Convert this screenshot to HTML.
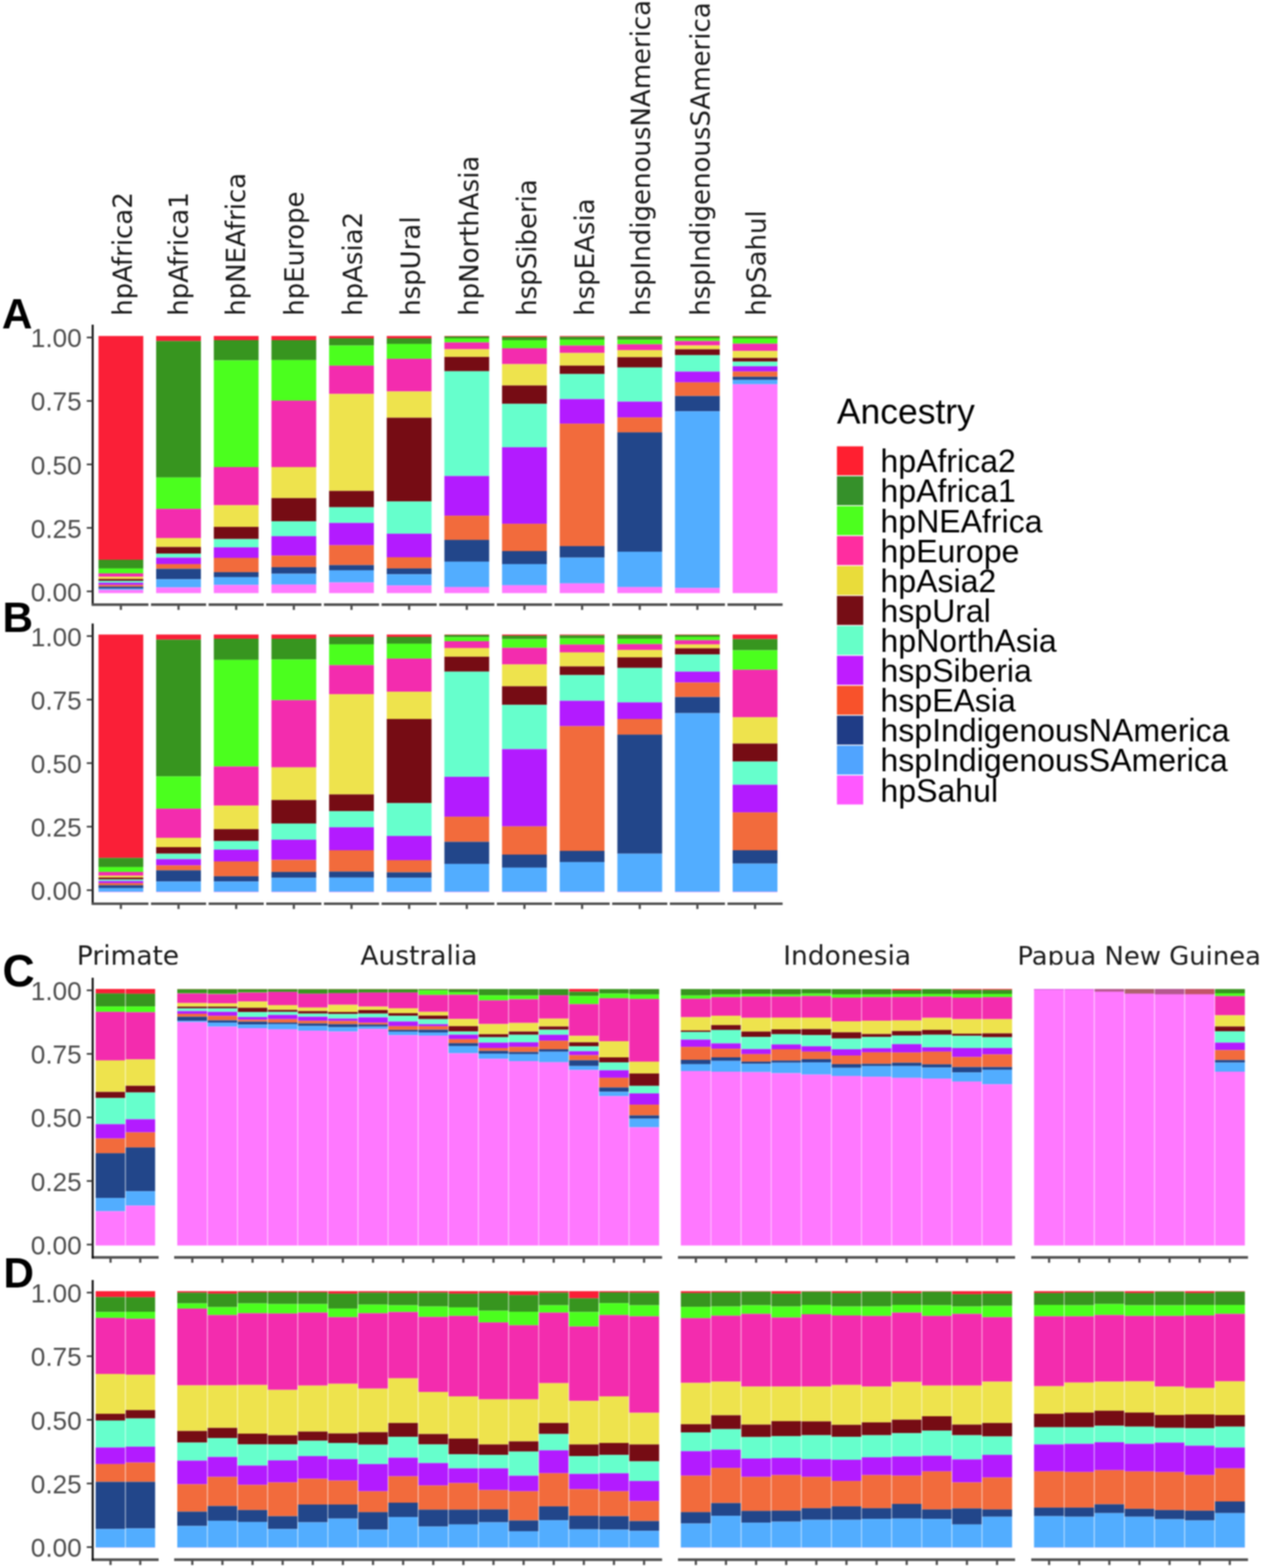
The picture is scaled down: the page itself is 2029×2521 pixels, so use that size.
<!DOCTYPE html>
<html><head><meta charset="utf-8"><title>Ancestry</title><style>
html,body{margin:0;padding:0;background:#fff;}
body{width:2029px;height:2521px;overflow:hidden;}
svg{display:block;filter:blur(1px);}
.yt{font-family:"Liberation Sans",Arial,sans-serif;font-size:42px;fill:#4D4D4D;text-anchor:end;}
.strip{font-family:"DejaVu Sans",sans-serif;font-size:41.8px;fill:#1A1A1A;}
.col{font-size:41.8px;}
.tag{font-family:"Liberation Sans",Arial,sans-serif;font-size:68px;font-weight:bold;fill:#000;}
.ltitle{font-family:"Liberation Sans",Arial,sans-serif;font-size:57px;fill:#000;}
.ltxt{font-family:"Liberation Sans",Arial,sans-serif;font-size:51.5px;fill:#000;}
</style></head><body>
<svg width="2029" height="2521" viewBox="0 0 2029 2521">
<rect width="2029" height="2521" fill="#fff"/>
<defs><clipPath id="stripclip"><rect x="0" y="1400" width="2029" height="151.5"/></clipPath></defs>
<rect x="158.35" y="540.2" width="72" height="359.76" fill="#FA1F37"/>
<rect x="158.35" y="899.96" width="72" height="13.96" fill="#37951F"/>
<rect x="158.35" y="913.93" width="72" height="7.98" fill="#4BFF1E"/>
<rect x="158.35" y="921.9" width="72" height="5.38" fill="#F32CAE"/>
<rect x="158.35" y="927.29" width="72" height="3.59" fill="#EEE34D"/>
<rect x="158.35" y="930.88" width="72" height="2.99" fill="#760C14"/>
<rect x="158.35" y="933.87" width="72" height="2.99" fill="#66FFCC"/>
<rect x="158.35" y="936.86" width="72" height="3.59" fill="#B31BFF"/>
<rect x="158.35" y="940.45" width="72" height="2.79" fill="#F26B3C"/>
<rect x="158.35" y="943.24" width="72" height="3.19" fill="#22468A"/>
<rect x="158.35" y="946.43" width="72" height="1.99" fill="#52ADFF"/>
<rect x="158.35" y="948.43" width="72" height="5.17" fill="#FF78FF"/>
<rect x="251.04" y="540.2" width="72" height="8.15" fill="#FA1F37"/>
<rect x="251.04" y="548.35" width="72" height="219.39" fill="#37951F"/>
<rect x="251.04" y="767.73" width="72" height="50.46" fill="#4BFF1E"/>
<rect x="251.04" y="818.19" width="72" height="46.87" fill="#F32CAE"/>
<rect x="251.04" y="865.06" width="72" height="14.36" fill="#EEE34D"/>
<rect x="251.04" y="879.42" width="72" height="10.57" fill="#760C14"/>
<rect x="251.04" y="889.99" width="72" height="6.58" fill="#66FFCC"/>
<rect x="251.04" y="896.57" width="72" height="10.37" fill="#B31BFF"/>
<rect x="251.04" y="906.94" width="72" height="7.58" fill="#F26B3C"/>
<rect x="251.04" y="914.52" width="72" height="16.75" fill="#22468A"/>
<rect x="251.04" y="931.28" width="72" height="13.16" fill="#52ADFF"/>
<rect x="251.04" y="944.44" width="72" height="9.16" fill="#FF78FF"/>
<rect x="343.73" y="540.2" width="72" height="6.75" fill="#FA1F37"/>
<rect x="343.73" y="546.95" width="72" height="32.51" fill="#37951F"/>
<rect x="343.73" y="579.46" width="72" height="171.52" fill="#4BFF1E"/>
<rect x="343.73" y="750.98" width="72" height="61.23" fill="#F32CAE"/>
<rect x="343.73" y="812.21" width="72" height="34.9" fill="#EEE34D"/>
<rect x="343.73" y="847.11" width="72" height="19.55" fill="#760C14"/>
<rect x="343.73" y="866.66" width="72" height="13.36" fill="#66FFCC"/>
<rect x="343.73" y="880.02" width="72" height="16.95" fill="#B31BFF"/>
<rect x="343.73" y="896.97" width="72" height="22.94" fill="#F26B3C"/>
<rect x="343.73" y="919.91" width="72" height="7.98" fill="#22468A"/>
<rect x="343.73" y="927.89" width="72" height="12.56" fill="#52ADFF"/>
<rect x="343.73" y="940.45" width="72" height="13.15" fill="#FF78FF"/>
<rect x="436.42" y="540.2" width="72" height="6.75" fill="#FA1F37"/>
<rect x="436.42" y="546.95" width="72" height="31.91" fill="#37951F"/>
<rect x="436.42" y="578.86" width="72" height="65.22" fill="#4BFF1E"/>
<rect x="436.42" y="644.08" width="72" height="106.9" fill="#F32CAE"/>
<rect x="436.42" y="750.98" width="72" height="49.86" fill="#EEE34D"/>
<rect x="436.42" y="800.84" width="72" height="37.3" fill="#760C14"/>
<rect x="436.42" y="838.14" width="72" height="23.93" fill="#66FFCC"/>
<rect x="436.42" y="862.07" width="72" height="31.31" fill="#B31BFF"/>
<rect x="436.42" y="893.38" width="72" height="18.55" fill="#F26B3C"/>
<rect x="436.42" y="911.93" width="72" height="10.57" fill="#22468A"/>
<rect x="436.42" y="922.5" width="72" height="17.35" fill="#52ADFF"/>
<rect x="436.42" y="939.85" width="72" height="13.75" fill="#FF78FF"/>
<rect x="529.11" y="540.2" width="72" height="3.76" fill="#FA1F37"/>
<rect x="529.11" y="543.96" width="72" height="11.57" fill="#37951F"/>
<rect x="529.11" y="555.53" width="72" height="32.31" fill="#4BFF1E"/>
<rect x="529.11" y="587.84" width="72" height="45.47" fill="#F32CAE"/>
<rect x="529.11" y="633.31" width="72" height="155.96" fill="#EEE34D"/>
<rect x="529.11" y="789.27" width="72" height="26.33" fill="#760C14"/>
<rect x="529.11" y="815.6" width="72" height="25.13" fill="#66FFCC"/>
<rect x="529.11" y="840.73" width="72" height="35.9" fill="#B31BFF"/>
<rect x="529.11" y="876.63" width="72" height="31.91" fill="#F26B3C"/>
<rect x="529.11" y="908.54" width="72" height="8.38" fill="#22468A"/>
<rect x="529.11" y="916.92" width="72" height="19.55" fill="#52ADFF"/>
<rect x="529.11" y="936.46" width="72" height="17.14" fill="#FF78FF"/>
<rect x="621.8" y="540.2" width="72" height="3.76" fill="#FA1F37"/>
<rect x="621.8" y="543.96" width="72" height="8.97" fill="#37951F"/>
<rect x="621.8" y="552.94" width="72" height="23.93" fill="#4BFF1E"/>
<rect x="621.8" y="576.87" width="72" height="52.45" fill="#F32CAE"/>
<rect x="621.8" y="629.32" width="72" height="42.28" fill="#EEE34D"/>
<rect x="621.8" y="671.6" width="72" height="134.62" fill="#760C14"/>
<rect x="621.8" y="806.23" width="72" height="51.85" fill="#66FFCC"/>
<rect x="621.8" y="858.08" width="72" height="37.89" fill="#B31BFF"/>
<rect x="621.8" y="895.98" width="72" height="17.95" fill="#F26B3C"/>
<rect x="621.8" y="913.93" width="72" height="9.37" fill="#22468A"/>
<rect x="621.8" y="923.3" width="72" height="17.95" fill="#52ADFF"/>
<rect x="621.8" y="941.25" width="72" height="12.35" fill="#FF78FF"/>
<rect x="714.49" y="540.2" width="72" height="0.77" fill="#FA1F37"/>
<rect x="714.49" y="540.97" width="72" height="2.99" fill="#37951F"/>
<rect x="714.49" y="543.96" width="72" height="6.58" fill="#4BFF1E"/>
<rect x="714.49" y="550.54" width="72" height="10.97" fill="#F32CAE"/>
<rect x="714.49" y="561.51" width="72" height="12.37" fill="#EEE34D"/>
<rect x="714.49" y="573.88" width="72" height="22.94" fill="#760C14"/>
<rect x="714.49" y="596.81" width="72" height="168.53" fill="#66FFCC"/>
<rect x="714.49" y="765.34" width="72" height="63.82" fill="#B31BFF"/>
<rect x="714.49" y="829.16" width="72" height="38.89" fill="#F26B3C"/>
<rect x="714.49" y="868.05" width="72" height="34.9" fill="#22468A"/>
<rect x="714.49" y="902.96" width="72" height="40.89" fill="#52ADFF"/>
<rect x="714.49" y="943.84" width="72" height="9.76" fill="#FF78FF"/>
<rect x="807.18" y="540.2" width="72" height="1.77" fill="#FA1F37"/>
<rect x="807.18" y="541.97" width="72" height="4.99" fill="#37951F"/>
<rect x="807.18" y="546.95" width="72" height="12.96" fill="#4BFF1E"/>
<rect x="807.18" y="559.92" width="72" height="25.53" fill="#F32CAE"/>
<rect x="807.18" y="585.44" width="72" height="34.3" fill="#EEE34D"/>
<rect x="807.18" y="619.75" width="72" height="29.52" fill="#760C14"/>
<rect x="807.18" y="649.27" width="72" height="69.8" fill="#66FFCC"/>
<rect x="807.18" y="719.07" width="72" height="123.06" fill="#B31BFF"/>
<rect x="807.18" y="842.13" width="72" height="43.88" fill="#F26B3C"/>
<rect x="807.18" y="886" width="72" height="20.94" fill="#22468A"/>
<rect x="807.18" y="906.94" width="72" height="33.91" fill="#52ADFF"/>
<rect x="807.18" y="940.85" width="72" height="12.75" fill="#FF78FF"/>
<rect x="899.87" y="540.2" width="72" height="1.37" fill="#FA1F37"/>
<rect x="899.87" y="541.57" width="72" height="4.39" fill="#37951F"/>
<rect x="899.87" y="545.96" width="72" height="9.57" fill="#4BFF1E"/>
<rect x="899.87" y="555.53" width="72" height="11.97" fill="#F32CAE"/>
<rect x="899.87" y="567.5" width="72" height="20.34" fill="#EEE34D"/>
<rect x="899.87" y="587.84" width="72" height="13.56" fill="#760C14"/>
<rect x="899.87" y="601.4" width="72" height="40.29" fill="#66FFCC"/>
<rect x="899.87" y="641.69" width="72" height="39.49" fill="#B31BFF"/>
<rect x="899.87" y="681.18" width="72" height="196.85" fill="#F26B3C"/>
<rect x="899.87" y="878.03" width="72" height="18.55" fill="#22468A"/>
<rect x="899.87" y="896.57" width="72" height="41.28" fill="#52ADFF"/>
<rect x="899.87" y="937.86" width="72" height="15.74" fill="#FF78FF"/>
<rect x="992.56" y="540.2" width="72" height="0.77" fill="#FA1F37"/>
<rect x="992.56" y="540.97" width="72" height="5.38" fill="#37951F"/>
<rect x="992.56" y="546.35" width="72" height="7.18" fill="#4BFF1E"/>
<rect x="992.56" y="553.53" width="72" height="9.37" fill="#F32CAE"/>
<rect x="992.56" y="562.91" width="72" height="11.37" fill="#EEE34D"/>
<rect x="992.56" y="574.28" width="72" height="16.55" fill="#760C14"/>
<rect x="992.56" y="590.83" width="72" height="54.85" fill="#66FFCC"/>
<rect x="992.56" y="645.68" width="72" height="25.53" fill="#B31BFF"/>
<rect x="992.56" y="671.2" width="72" height="23.93" fill="#F26B3C"/>
<rect x="992.56" y="695.14" width="72" height="191.86" fill="#22468A"/>
<rect x="992.56" y="887" width="72" height="56.84" fill="#52ADFF"/>
<rect x="992.56" y="943.84" width="72" height="9.76" fill="#FF78FF"/>
<rect x="1085.25" y="540.2" width="72" height="0.77" fill="#FA1F37"/>
<rect x="1085.25" y="540.97" width="72" height="2.99" fill="#37951F"/>
<rect x="1085.25" y="543.96" width="72" height="4.39" fill="#4BFF1E"/>
<rect x="1085.25" y="548.35" width="72" height="6.98" fill="#F32CAE"/>
<rect x="1085.25" y="555.33" width="72" height="6.18" fill="#EEE34D"/>
<rect x="1085.25" y="561.51" width="72" height="9.37" fill="#760C14"/>
<rect x="1085.25" y="570.89" width="72" height="26.53" fill="#66FFCC"/>
<rect x="1085.25" y="597.41" width="72" height="17.35" fill="#B31BFF"/>
<rect x="1085.25" y="614.76" width="72" height="21.94" fill="#F26B3C"/>
<rect x="1085.25" y="636.7" width="72" height="24.53" fill="#22468A"/>
<rect x="1085.25" y="661.23" width="72" height="284" fill="#52ADFF"/>
<rect x="1085.25" y="945.24" width="72" height="8.36" fill="#FF78FF"/>
<rect x="1177.94" y="540.2" width="72" height="0.77" fill="#FA1F37"/>
<rect x="1177.94" y="540.97" width="72" height="2.99" fill="#37951F"/>
<rect x="1177.94" y="543.96" width="72" height="8.58" fill="#4BFF1E"/>
<rect x="1177.94" y="552.54" width="72" height="11.77" fill="#F32CAE"/>
<rect x="1177.94" y="564.3" width="72" height="11.17" fill="#EEE34D"/>
<rect x="1177.94" y="575.47" width="72" height="5.98" fill="#760C14"/>
<rect x="1177.94" y="581.46" width="72" height="7.38" fill="#66FFCC"/>
<rect x="1177.94" y="588.84" width="72" height="8.58" fill="#B31BFF"/>
<rect x="1177.94" y="597.41" width="72" height="8.38" fill="#F26B3C"/>
<rect x="1177.94" y="605.79" width="72" height="4.99" fill="#22468A"/>
<rect x="1177.94" y="610.77" width="72" height="6.98" fill="#52ADFF"/>
<rect x="1177.94" y="617.75" width="72" height="335.85" fill="#FF78FF"/>
<line x1="149" y1="521.9" x2="149" y2="973.6" stroke="#000" stroke-width="3"/>
<line x1="139.5" y1="542.6" x2="149" y2="542.6" stroke="#333" stroke-width="2.6"/>
<text x="131.3" y="558.4" class="yt">1.00</text>
<line x1="139.5" y1="644.65" x2="149" y2="644.65" stroke="#333" stroke-width="2.6"/>
<text x="131.3" y="660.45" class="yt">0.75</text>
<line x1="139.5" y1="746.7" x2="149" y2="746.7" stroke="#333" stroke-width="2.6"/>
<text x="131.3" y="762.5" class="yt">0.50</text>
<line x1="139.5" y1="848.75" x2="149" y2="848.75" stroke="#333" stroke-width="2.6"/>
<text x="131.3" y="864.55" class="yt">0.25</text>
<line x1="139.5" y1="950.8" x2="149" y2="950.8" stroke="#333" stroke-width="2.6"/>
<text x="131.3" y="966.6" class="yt">0.00</text>
<line x1="147.5" y1="972.1" x2="238.65" y2="972.1" stroke="#4F4F4F" stroke-width="4.2"/>
<line x1="194.35" y1="972.1" x2="194.35" y2="980.6" stroke="#4F4F4F" stroke-width="3.6"/>
<line x1="242.74" y1="972.1" x2="331.34" y2="972.1" stroke="#4F4F4F" stroke-width="4.2"/>
<line x1="287.04" y1="972.1" x2="287.04" y2="980.6" stroke="#4F4F4F" stroke-width="3.6"/>
<line x1="335.43" y1="972.1" x2="424.03" y2="972.1" stroke="#4F4F4F" stroke-width="4.2"/>
<line x1="379.73" y1="972.1" x2="379.73" y2="980.6" stroke="#4F4F4F" stroke-width="3.6"/>
<line x1="428.12" y1="972.1" x2="516.72" y2="972.1" stroke="#4F4F4F" stroke-width="4.2"/>
<line x1="472.42" y1="972.1" x2="472.42" y2="980.6" stroke="#4F4F4F" stroke-width="3.6"/>
<line x1="520.81" y1="972.1" x2="609.41" y2="972.1" stroke="#4F4F4F" stroke-width="4.2"/>
<line x1="565.11" y1="972.1" x2="565.11" y2="980.6" stroke="#4F4F4F" stroke-width="3.6"/>
<line x1="613.5" y1="972.1" x2="702.1" y2="972.1" stroke="#4F4F4F" stroke-width="4.2"/>
<line x1="657.8" y1="972.1" x2="657.8" y2="980.6" stroke="#4F4F4F" stroke-width="3.6"/>
<line x1="706.19" y1="972.1" x2="794.79" y2="972.1" stroke="#4F4F4F" stroke-width="4.2"/>
<line x1="750.49" y1="972.1" x2="750.49" y2="980.6" stroke="#4F4F4F" stroke-width="3.6"/>
<line x1="798.88" y1="972.1" x2="887.48" y2="972.1" stroke="#4F4F4F" stroke-width="4.2"/>
<line x1="843.18" y1="972.1" x2="843.18" y2="980.6" stroke="#4F4F4F" stroke-width="3.6"/>
<line x1="891.57" y1="972.1" x2="980.17" y2="972.1" stroke="#4F4F4F" stroke-width="4.2"/>
<line x1="935.87" y1="972.1" x2="935.87" y2="980.6" stroke="#4F4F4F" stroke-width="3.6"/>
<line x1="984.26" y1="972.1" x2="1072.86" y2="972.1" stroke="#4F4F4F" stroke-width="4.2"/>
<line x1="1028.56" y1="972.1" x2="1028.56" y2="980.6" stroke="#4F4F4F" stroke-width="3.6"/>
<line x1="1076.95" y1="972.1" x2="1165.55" y2="972.1" stroke="#4F4F4F" stroke-width="4.2"/>
<line x1="1121.25" y1="972.1" x2="1121.25" y2="980.6" stroke="#4F4F4F" stroke-width="3.6"/>
<line x1="1169.64" y1="972.1" x2="1258.24" y2="972.1" stroke="#4F4F4F" stroke-width="4.2"/>
<line x1="1213.94" y1="972.1" x2="1213.94" y2="980.6" stroke="#4F4F4F" stroke-width="3.6"/>
<rect x="158.35" y="1020.2" width="72" height="359.17" fill="#FA1F37"/>
<rect x="158.35" y="1379.37" width="72" height="14.56" fill="#37951F"/>
<rect x="158.35" y="1393.93" width="72" height="7.98" fill="#4BFF1E"/>
<rect x="158.35" y="1401.9" width="72" height="5.98" fill="#F32CAE"/>
<rect x="158.35" y="1407.89" width="72" height="2.99" fill="#EEE34D"/>
<rect x="158.35" y="1410.88" width="72" height="2.99" fill="#760C14"/>
<rect x="158.35" y="1413.87" width="72" height="2.59" fill="#66FFCC"/>
<rect x="158.35" y="1416.46" width="72" height="3.39" fill="#B31BFF"/>
<rect x="158.35" y="1419.85" width="72" height="3.39" fill="#F26B3C"/>
<rect x="158.35" y="1423.24" width="72" height="4.59" fill="#22468A"/>
<rect x="158.35" y="1427.83" width="72" height="5.98" fill="#52ADFF"/>
<rect x="158.35" y="1433.81" width="72" height="0.59" fill="#FF78FF"/>
<rect x="251.04" y="1020.2" width="72" height="8.15" fill="#FA1F37"/>
<rect x="251.04" y="1028.35" width="72" height="219.98" fill="#37951F"/>
<rect x="251.04" y="1248.33" width="72" height="51.85" fill="#4BFF1E"/>
<rect x="251.04" y="1300.19" width="72" height="46.87" fill="#F32CAE"/>
<rect x="251.04" y="1347.06" width="72" height="14.96" fill="#EEE34D"/>
<rect x="251.04" y="1362.01" width="72" height="10.57" fill="#760C14"/>
<rect x="251.04" y="1372.58" width="72" height="8.78" fill="#66FFCC"/>
<rect x="251.04" y="1381.36" width="72" height="9.97" fill="#B31BFF"/>
<rect x="251.04" y="1391.33" width="72" height="7.98" fill="#F26B3C"/>
<rect x="251.04" y="1399.31" width="72" height="17.95" fill="#22468A"/>
<rect x="251.04" y="1417.26" width="72" height="16.55" fill="#52ADFF"/>
<rect x="251.04" y="1433.81" width="72" height="0.59" fill="#FF78FF"/>
<rect x="343.73" y="1020.2" width="72" height="6.75" fill="#FA1F37"/>
<rect x="343.73" y="1026.95" width="72" height="33.91" fill="#37951F"/>
<rect x="343.73" y="1060.86" width="72" height="171.52" fill="#4BFF1E"/>
<rect x="343.73" y="1232.38" width="72" height="62.82" fill="#F32CAE"/>
<rect x="343.73" y="1295.2" width="72" height="37.89" fill="#EEE34D"/>
<rect x="343.73" y="1333.1" width="72" height="18.95" fill="#760C14"/>
<rect x="343.73" y="1352.04" width="72" height="13.96" fill="#66FFCC"/>
<rect x="343.73" y="1366" width="72" height="18.95" fill="#B31BFF"/>
<rect x="343.73" y="1384.95" width="72" height="23.93" fill="#F26B3C"/>
<rect x="343.73" y="1408.88" width="72" height="8.38" fill="#22468A"/>
<rect x="343.73" y="1417.26" width="72" height="16.55" fill="#52ADFF"/>
<rect x="343.73" y="1433.81" width="72" height="0.59" fill="#FF78FF"/>
<rect x="436.42" y="1020.2" width="72" height="6.75" fill="#FA1F37"/>
<rect x="436.42" y="1026.95" width="72" height="33.31" fill="#37951F"/>
<rect x="436.42" y="1060.26" width="72" height="65.42" fill="#4BFF1E"/>
<rect x="436.42" y="1125.68" width="72" height="108.1" fill="#F32CAE"/>
<rect x="436.42" y="1233.77" width="72" height="52.45" fill="#EEE34D"/>
<rect x="436.42" y="1286.23" width="72" height="37.89" fill="#760C14"/>
<rect x="436.42" y="1324.12" width="72" height="25.93" fill="#66FFCC"/>
<rect x="436.42" y="1350.05" width="72" height="32.51" fill="#B31BFF"/>
<rect x="436.42" y="1382.56" width="72" height="19.35" fill="#F26B3C"/>
<rect x="436.42" y="1401.9" width="72" height="9.37" fill="#22468A"/>
<rect x="436.42" y="1411.28" width="72" height="22.54" fill="#52ADFF"/>
<rect x="436.42" y="1433.81" width="72" height="0.59" fill="#FF78FF"/>
<rect x="529.11" y="1020.2" width="72" height="3.76" fill="#FA1F37"/>
<rect x="529.11" y="1023.96" width="72" height="11.97" fill="#37951F"/>
<rect x="529.11" y="1035.93" width="72" height="33.51" fill="#4BFF1E"/>
<rect x="529.11" y="1069.43" width="72" height="46.67" fill="#F32CAE"/>
<rect x="529.11" y="1116.1" width="72" height="161.15" fill="#EEE34D"/>
<rect x="529.11" y="1277.25" width="72" height="26.92" fill="#760C14"/>
<rect x="529.11" y="1304.18" width="72" height="25.93" fill="#66FFCC"/>
<rect x="529.11" y="1330.1" width="72" height="36.9" fill="#B31BFF"/>
<rect x="529.11" y="1367" width="72" height="34.3" fill="#F26B3C"/>
<rect x="529.11" y="1401.3" width="72" height="9.57" fill="#22468A"/>
<rect x="529.11" y="1410.88" width="72" height="22.94" fill="#52ADFF"/>
<rect x="529.11" y="1433.81" width="72" height="0.59" fill="#FF78FF"/>
<rect x="621.8" y="1020.2" width="72" height="3.76" fill="#FA1F37"/>
<rect x="621.8" y="1023.96" width="72" height="10.97" fill="#37951F"/>
<rect x="621.8" y="1034.93" width="72" height="23.93" fill="#4BFF1E"/>
<rect x="621.8" y="1058.86" width="72" height="53.25" fill="#F32CAE"/>
<rect x="621.8" y="1112.11" width="72" height="43.88" fill="#EEE34D"/>
<rect x="621.8" y="1155.99" width="72" height="135.22" fill="#760C14"/>
<rect x="621.8" y="1291.21" width="72" height="52.85" fill="#66FFCC"/>
<rect x="621.8" y="1344.06" width="72" height="38.89" fill="#B31BFF"/>
<rect x="621.8" y="1382.96" width="72" height="19.55" fill="#F26B3C"/>
<rect x="621.8" y="1402.5" width="72" height="8.78" fill="#22468A"/>
<rect x="621.8" y="1411.28" width="72" height="22.54" fill="#52ADFF"/>
<rect x="621.8" y="1433.81" width="72" height="0.59" fill="#FF78FF"/>
<rect x="714.49" y="1020.2" width="72" height="0.77" fill="#FA1F37"/>
<rect x="714.49" y="1020.97" width="72" height="3.39" fill="#37951F"/>
<rect x="714.49" y="1024.36" width="72" height="6.58" fill="#4BFF1E"/>
<rect x="714.49" y="1030.94" width="72" height="10.97" fill="#F32CAE"/>
<rect x="714.49" y="1041.91" width="72" height="13.96" fill="#EEE34D"/>
<rect x="714.49" y="1055.87" width="72" height="23.93" fill="#760C14"/>
<rect x="714.49" y="1079.8" width="72" height="169.13" fill="#66FFCC"/>
<rect x="714.49" y="1248.93" width="72" height="64.22" fill="#B31BFF"/>
<rect x="714.49" y="1313.15" width="72" height="40.29" fill="#F26B3C"/>
<rect x="714.49" y="1353.44" width="72" height="35.5" fill="#22468A"/>
<rect x="714.49" y="1388.94" width="72" height="44.87" fill="#52ADFF"/>
<rect x="714.49" y="1433.81" width="72" height="0.59" fill="#FF78FF"/>
<rect x="807.18" y="1020.2" width="72" height="1.77" fill="#FA1F37"/>
<rect x="807.18" y="1021.97" width="72" height="5.58" fill="#37951F"/>
<rect x="807.18" y="1027.55" width="72" height="13.96" fill="#4BFF1E"/>
<rect x="807.18" y="1041.51" width="72" height="26.73" fill="#F32CAE"/>
<rect x="807.18" y="1068.24" width="72" height="35.1" fill="#EEE34D"/>
<rect x="807.18" y="1103.34" width="72" height="29.92" fill="#760C14"/>
<rect x="807.18" y="1133.25" width="72" height="71.2" fill="#66FFCC"/>
<rect x="807.18" y="1204.46" width="72" height="124.25" fill="#B31BFF"/>
<rect x="807.18" y="1328.71" width="72" height="45.27" fill="#F26B3C"/>
<rect x="807.18" y="1373.98" width="72" height="20.94" fill="#22468A"/>
<rect x="807.18" y="1394.92" width="72" height="38.89" fill="#52ADFF"/>
<rect x="807.18" y="1433.81" width="72" height="0.59" fill="#FF78FF"/>
<rect x="899.87" y="1020.2" width="72" height="1.37" fill="#FA1F37"/>
<rect x="899.87" y="1021.57" width="72" height="4.79" fill="#37951F"/>
<rect x="899.87" y="1026.35" width="72" height="9.97" fill="#4BFF1E"/>
<rect x="899.87" y="1036.33" width="72" height="12.56" fill="#F32CAE"/>
<rect x="899.87" y="1048.89" width="72" height="22.54" fill="#EEE34D"/>
<rect x="899.87" y="1071.43" width="72" height="13.96" fill="#760C14"/>
<rect x="899.87" y="1085.39" width="72" height="41.28" fill="#66FFCC"/>
<rect x="899.87" y="1126.67" width="72" height="40.89" fill="#B31BFF"/>
<rect x="899.87" y="1167.56" width="72" height="200.44" fill="#F26B3C"/>
<rect x="899.87" y="1368" width="72" height="17.95" fill="#22468A"/>
<rect x="899.87" y="1385.95" width="72" height="47.87" fill="#52ADFF"/>
<rect x="899.87" y="1433.81" width="72" height="0.59" fill="#FF78FF"/>
<rect x="992.56" y="1020.2" width="72" height="0.77" fill="#FA1F37"/>
<rect x="992.56" y="1020.97" width="72" height="5.98" fill="#37951F"/>
<rect x="992.56" y="1026.95" width="72" height="8.58" fill="#4BFF1E"/>
<rect x="992.56" y="1035.53" width="72" height="9.37" fill="#F32CAE"/>
<rect x="992.56" y="1044.9" width="72" height="11.97" fill="#EEE34D"/>
<rect x="992.56" y="1056.87" width="72" height="16.95" fill="#760C14"/>
<rect x="992.56" y="1073.82" width="72" height="55.44" fill="#66FFCC"/>
<rect x="992.56" y="1129.27" width="72" height="26.73" fill="#B31BFF"/>
<rect x="992.56" y="1155.99" width="72" height="25.13" fill="#F26B3C"/>
<rect x="992.56" y="1181.12" width="72" height="191.46" fill="#22468A"/>
<rect x="992.56" y="1372.58" width="72" height="61.23" fill="#52ADFF"/>
<rect x="992.56" y="1433.81" width="72" height="0.59" fill="#FF78FF"/>
<rect x="1085.25" y="1020.2" width="72" height="0.77" fill="#FA1F37"/>
<rect x="1085.25" y="1020.97" width="72" height="2.99" fill="#37951F"/>
<rect x="1085.25" y="1023.96" width="72" height="5.38" fill="#4BFF1E"/>
<rect x="1085.25" y="1029.35" width="72" height="6.58" fill="#F32CAE"/>
<rect x="1085.25" y="1035.93" width="72" height="6.38" fill="#EEE34D"/>
<rect x="1085.25" y="1042.31" width="72" height="9.97" fill="#760C14"/>
<rect x="1085.25" y="1052.28" width="72" height="27.52" fill="#66FFCC"/>
<rect x="1085.25" y="1079.8" width="72" height="17.55" fill="#B31BFF"/>
<rect x="1085.25" y="1097.36" width="72" height="23.33" fill="#F26B3C"/>
<rect x="1085.25" y="1120.69" width="72" height="25.93" fill="#22468A"/>
<rect x="1085.25" y="1146.62" width="72" height="287.2" fill="#52ADFF"/>
<rect x="1085.25" y="1433.81" width="72" height="0.59" fill="#FF78FF"/>
<rect x="1177.94" y="1020.2" width="72" height="7.35" fill="#FA1F37"/>
<rect x="1177.94" y="1027.55" width="72" height="17.95" fill="#37951F"/>
<rect x="1177.94" y="1045.5" width="72" height="31.31" fill="#4BFF1E"/>
<rect x="1177.94" y="1076.81" width="72" height="76.39" fill="#F32CAE"/>
<rect x="1177.94" y="1153.2" width="72" height="42.28" fill="#EEE34D"/>
<rect x="1177.94" y="1195.48" width="72" height="28.92" fill="#760C14"/>
<rect x="1177.94" y="1224.4" width="72" height="37.3" fill="#66FFCC"/>
<rect x="1177.94" y="1261.7" width="72" height="44.48" fill="#B31BFF"/>
<rect x="1177.94" y="1306.17" width="72" height="60.83" fill="#F26B3C"/>
<rect x="1177.94" y="1367" width="72" height="21.54" fill="#22468A"/>
<rect x="1177.94" y="1388.54" width="72" height="45.27" fill="#52ADFF"/>
<rect x="1177.94" y="1433.81" width="72" height="0.59" fill="#FF78FF"/>
<line x1="149" y1="1002.6" x2="149" y2="1454.5" stroke="#000" stroke-width="3"/>
<line x1="139.5" y1="1022.7" x2="149" y2="1022.7" stroke="#333" stroke-width="2.6"/>
<text x="131.3" y="1038.5" class="yt">1.00</text>
<line x1="139.5" y1="1124.83" x2="149" y2="1124.83" stroke="#333" stroke-width="2.6"/>
<text x="131.3" y="1140.62" class="yt">0.75</text>
<line x1="139.5" y1="1226.95" x2="149" y2="1226.95" stroke="#333" stroke-width="2.6"/>
<text x="131.3" y="1242.75" class="yt">0.50</text>
<line x1="139.5" y1="1329.08" x2="149" y2="1329.08" stroke="#333" stroke-width="2.6"/>
<text x="131.3" y="1344.88" class="yt">0.25</text>
<line x1="139.5" y1="1431.2" x2="149" y2="1431.2" stroke="#333" stroke-width="2.6"/>
<text x="131.3" y="1447" class="yt">0.00</text>
<line x1="147.5" y1="1453" x2="238.65" y2="1453" stroke="#4F4F4F" stroke-width="4.2"/>
<line x1="194.35" y1="1453" x2="194.35" y2="1461.5" stroke="#4F4F4F" stroke-width="3.6"/>
<line x1="242.74" y1="1453" x2="331.34" y2="1453" stroke="#4F4F4F" stroke-width="4.2"/>
<line x1="287.04" y1="1453" x2="287.04" y2="1461.5" stroke="#4F4F4F" stroke-width="3.6"/>
<line x1="335.43" y1="1453" x2="424.03" y2="1453" stroke="#4F4F4F" stroke-width="4.2"/>
<line x1="379.73" y1="1453" x2="379.73" y2="1461.5" stroke="#4F4F4F" stroke-width="3.6"/>
<line x1="428.12" y1="1453" x2="516.72" y2="1453" stroke="#4F4F4F" stroke-width="4.2"/>
<line x1="472.42" y1="1453" x2="472.42" y2="1461.5" stroke="#4F4F4F" stroke-width="3.6"/>
<line x1="520.81" y1="1453" x2="609.41" y2="1453" stroke="#4F4F4F" stroke-width="4.2"/>
<line x1="565.11" y1="1453" x2="565.11" y2="1461.5" stroke="#4F4F4F" stroke-width="3.6"/>
<line x1="613.5" y1="1453" x2="702.1" y2="1453" stroke="#4F4F4F" stroke-width="4.2"/>
<line x1="657.8" y1="1453" x2="657.8" y2="1461.5" stroke="#4F4F4F" stroke-width="3.6"/>
<line x1="706.19" y1="1453" x2="794.79" y2="1453" stroke="#4F4F4F" stroke-width="4.2"/>
<line x1="750.49" y1="1453" x2="750.49" y2="1461.5" stroke="#4F4F4F" stroke-width="3.6"/>
<line x1="798.88" y1="1453" x2="887.48" y2="1453" stroke="#4F4F4F" stroke-width="4.2"/>
<line x1="843.18" y1="1453" x2="843.18" y2="1461.5" stroke="#4F4F4F" stroke-width="3.6"/>
<line x1="891.57" y1="1453" x2="980.17" y2="1453" stroke="#4F4F4F" stroke-width="4.2"/>
<line x1="935.87" y1="1453" x2="935.87" y2="1461.5" stroke="#4F4F4F" stroke-width="3.6"/>
<line x1="984.26" y1="1453" x2="1072.86" y2="1453" stroke="#4F4F4F" stroke-width="4.2"/>
<line x1="1028.56" y1="1453" x2="1028.56" y2="1461.5" stroke="#4F4F4F" stroke-width="3.6"/>
<line x1="1076.95" y1="1453" x2="1165.55" y2="1453" stroke="#4F4F4F" stroke-width="4.2"/>
<line x1="1121.25" y1="1453" x2="1121.25" y2="1461.5" stroke="#4F4F4F" stroke-width="3.6"/>
<line x1="1169.64" y1="1453" x2="1258.24" y2="1453" stroke="#4F4F4F" stroke-width="4.2"/>
<line x1="1213.94" y1="1453" x2="1213.94" y2="1461.5" stroke="#4F4F4F" stroke-width="3.6"/>
<text class="strip col" transform="translate(212.3,507.8) rotate(-90)" x="0" y="0">hpAfrica2</text>
<text class="strip col" transform="translate(301.7,507.8) rotate(-90)" x="0" y="0">hpAfrica1</text>
<text class="strip col" transform="translate(394,507.8) rotate(-90)" x="0" y="0">hpNEAfrica</text>
<text class="strip col" transform="translate(488.1,507.8) rotate(-90)" x="0" y="0">hpEurope</text>
<text class="strip col" transform="translate(581.6,507.8) rotate(-90)" x="0" y="0">hpAsia2</text>
<text class="strip col" transform="translate(675.1,507.8) rotate(-90)" x="0" y="0">hspUral</text>
<text class="strip col" transform="translate(769.1,507.8) rotate(-90)" x="0" y="0">hpNorthAsia</text>
<text class="strip col" transform="translate(861.7,507.8) rotate(-90)" x="0" y="0">hspSiberia</text>
<text class="strip col" transform="translate(954.6,507.8) rotate(-90)" x="0" y="0">hspEAsia</text>
<text class="strip col" transform="translate(1044.9,507.8) rotate(-90)" x="0" y="0">hspIndigenousNAmerica</text>
<text class="strip col" transform="translate(1141,507.8) rotate(-90)" x="0" y="0">hspIndigenousSAmerica</text>
<text class="strip col" transform="translate(1231,507.8) rotate(-90)" x="0" y="0">hpSahul</text>
<rect x="153.8" y="1590" width="47.8" height="7.22" fill="#FA1F37"/>
<rect x="153.8" y="1597.22" width="47.8" height="20.9" fill="#37951F"/>
<rect x="153.8" y="1618.12" width="47.8" height="8.68" fill="#4BFF1E"/>
<rect x="153.8" y="1626.8" width="47.8" height="78.08" fill="#F32CAE"/>
<rect x="153.8" y="1704.87" width="47.8" height="50.67" fill="#EEE34D"/>
<rect x="153.8" y="1755.54" width="47.8" height="9.86" fill="#760C14"/>
<rect x="153.8" y="1765.4" width="47.8" height="42" fill="#66FFCC"/>
<rect x="153.8" y="1807.4" width="47.8" height="23.07" fill="#B31BFF"/>
<rect x="153.8" y="1830.47" width="47.8" height="23.66" fill="#F26B3C"/>
<rect x="153.8" y="1854.12" width="47.8" height="71.96" fill="#22468A"/>
<rect x="153.8" y="1926.09" width="47.8" height="21.29" fill="#52ADFF"/>
<rect x="153.8" y="1947.38" width="47.8" height="55.12" fill="#FF78FF"/>
<rect x="201.6" y="1590" width="47.8" height="7.82" fill="#FA1F37"/>
<rect x="201.6" y="1597.82" width="47.8" height="20.31" fill="#37951F"/>
<rect x="201.6" y="1618.12" width="47.8" height="9.27" fill="#4BFF1E"/>
<rect x="201.6" y="1627.39" width="47.8" height="75.91" fill="#F32CAE"/>
<rect x="201.6" y="1703.3" width="47.8" height="42.39" fill="#EEE34D"/>
<rect x="201.6" y="1745.69" width="47.8" height="10.84" fill="#760C14"/>
<rect x="201.6" y="1756.53" width="47.8" height="42.98" fill="#66FFCC"/>
<rect x="201.6" y="1799.51" width="47.8" height="21.1" fill="#B31BFF"/>
<rect x="201.6" y="1820.61" width="47.8" height="24.25" fill="#F26B3C"/>
<rect x="201.6" y="1844.86" width="47.8" height="70.39" fill="#22468A"/>
<rect x="201.6" y="1915.24" width="47.8" height="23.07" fill="#52ADFF"/>
<rect x="201.6" y="1938.31" width="47.8" height="64.19" fill="#FF78FF"/>
<line x1="147.5" y1="2021.7" x2="255" y2="2021.7" stroke="#4F4F4F" stroke-width="4.2"/>
<line x1="177.7" y1="2021.7" x2="177.7" y2="2030.2" stroke="#4F4F4F" stroke-width="3.6"/>
<line x1="225.5" y1="2021.7" x2="225.5" y2="2030.2" stroke="#4F4F4F" stroke-width="3.6"/>
<rect x="285" y="1590" width="48.42" height="0.48" fill="#FA1F37"/>
<rect x="285" y="1590.48" width="48.42" height="6.34" fill="#37951F"/>
<rect x="285" y="1596.82" width="48.42" height="0.43" fill="#4BFF1E"/>
<rect x="285" y="1597.25" width="48.42" height="15.42" fill="#F32CAE"/>
<rect x="285" y="1612.67" width="48.42" height="5.76" fill="#EEE34D"/>
<rect x="285" y="1618.43" width="48.42" height="2.88" fill="#760C14"/>
<rect x="285" y="1621.31" width="48.42" height="4.32" fill="#66FFCC"/>
<rect x="285" y="1625.63" width="48.42" height="4.32" fill="#B31BFF"/>
<rect x="285" y="1629.96" width="48.42" height="4.76" fill="#F26B3C"/>
<rect x="285" y="1634.71" width="48.42" height="6.48" fill="#22468A"/>
<rect x="285" y="1641.2" width="48.42" height="2.16" fill="#52ADFF"/>
<rect x="285" y="1643.36" width="48.42" height="359.14" fill="#FF78FF"/>
<rect x="333.42" y="1590" width="48.42" height="0.48" fill="#FA1F37"/>
<rect x="333.42" y="1590.48" width="48.42" height="7.2" fill="#37951F"/>
<rect x="333.42" y="1597.68" width="48.42" height="0.58" fill="#4BFF1E"/>
<rect x="333.42" y="1598.26" width="48.42" height="14.84" fill="#F32CAE"/>
<rect x="333.42" y="1613.1" width="48.42" height="5.33" fill="#EEE34D"/>
<rect x="333.42" y="1618.43" width="48.42" height="2.88" fill="#760C14"/>
<rect x="333.42" y="1621.31" width="48.42" height="5.48" fill="#66FFCC"/>
<rect x="333.42" y="1626.79" width="48.42" height="6.48" fill="#B31BFF"/>
<rect x="333.42" y="1633.27" width="48.42" height="7.2" fill="#F26B3C"/>
<rect x="333.42" y="1640.48" width="48.42" height="3.6" fill="#22468A"/>
<rect x="333.42" y="1644.08" width="48.42" height="6.48" fill="#52ADFF"/>
<rect x="333.42" y="1650.56" width="48.42" height="351.94" fill="#FF78FF"/>
<rect x="381.84" y="1590" width="48.42" height="0.48" fill="#FA1F37"/>
<rect x="381.84" y="1590.48" width="48.42" height="4.9" fill="#37951F"/>
<rect x="381.84" y="1595.37" width="48.42" height="0.43" fill="#4BFF1E"/>
<rect x="381.84" y="1595.81" width="48.42" height="14.41" fill="#F32CAE"/>
<rect x="381.84" y="1610.22" width="48.42" height="10.09" fill="#EEE34D"/>
<rect x="381.84" y="1620.3" width="48.42" height="6.77" fill="#760C14"/>
<rect x="381.84" y="1627.07" width="48.42" height="8.07" fill="#66FFCC"/>
<rect x="381.84" y="1635.14" width="48.42" height="4.32" fill="#B31BFF"/>
<rect x="381.84" y="1639.47" width="48.42" height="3.17" fill="#F26B3C"/>
<rect x="381.84" y="1642.64" width="48.42" height="4.61" fill="#22468A"/>
<rect x="381.84" y="1647.25" width="48.42" height="5.76" fill="#52ADFF"/>
<rect x="381.84" y="1653.01" width="48.42" height="349.49" fill="#FF78FF"/>
<rect x="430.26" y="1590" width="48.42" height="0.48" fill="#FA1F37"/>
<rect x="430.26" y="1590.48" width="48.42" height="4.32" fill="#37951F"/>
<rect x="430.26" y="1594.8" width="48.42" height="21.18" fill="#F32CAE"/>
<rect x="430.26" y="1615.98" width="48.42" height="7.64" fill="#EEE34D"/>
<rect x="430.26" y="1623.62" width="48.42" height="3.17" fill="#760C14"/>
<rect x="430.26" y="1626.79" width="48.42" height="5.04" fill="#66FFCC"/>
<rect x="430.26" y="1631.83" width="48.42" height="6.77" fill="#B31BFF"/>
<rect x="430.26" y="1638.6" width="48.42" height="5.48" fill="#F26B3C"/>
<rect x="430.26" y="1644.08" width="48.42" height="2.59" fill="#22468A"/>
<rect x="430.26" y="1646.67" width="48.42" height="8.21" fill="#52ADFF"/>
<rect x="430.26" y="1654.88" width="48.42" height="347.62" fill="#FF78FF"/>
<rect x="478.68" y="1590" width="48.42" height="0.48" fill="#FA1F37"/>
<rect x="478.68" y="1590.48" width="48.42" height="7.2" fill="#37951F"/>
<rect x="478.68" y="1597.68" width="48.42" height="22.19" fill="#F32CAE"/>
<rect x="478.68" y="1619.87" width="48.42" height="5.76" fill="#EEE34D"/>
<rect x="478.68" y="1625.63" width="48.42" height="4.03" fill="#760C14"/>
<rect x="478.68" y="1629.67" width="48.42" height="5.04" fill="#66FFCC"/>
<rect x="478.68" y="1634.71" width="48.42" height="6.48" fill="#B31BFF"/>
<rect x="478.68" y="1641.2" width="48.42" height="4.32" fill="#F26B3C"/>
<rect x="478.68" y="1645.52" width="48.42" height="4.03" fill="#22468A"/>
<rect x="478.68" y="1649.55" width="48.42" height="7.49" fill="#52ADFF"/>
<rect x="478.68" y="1657.05" width="48.42" height="345.45" fill="#FF78FF"/>
<rect x="527.1" y="1590" width="48.42" height="0.48" fill="#FA1F37"/>
<rect x="527.1" y="1590.48" width="48.42" height="6.34" fill="#37951F"/>
<rect x="527.1" y="1596.82" width="48.42" height="18.73" fill="#F32CAE"/>
<rect x="527.1" y="1615.55" width="48.42" height="11.53" fill="#EEE34D"/>
<rect x="527.1" y="1627.07" width="48.42" height="3.31" fill="#760C14"/>
<rect x="527.1" y="1630.39" width="48.42" height="7.2" fill="#66FFCC"/>
<rect x="527.1" y="1637.59" width="48.42" height="3.89" fill="#B31BFF"/>
<rect x="527.1" y="1641.48" width="48.42" height="5.19" fill="#F26B3C"/>
<rect x="527.1" y="1646.67" width="48.42" height="4.9" fill="#22468A"/>
<rect x="527.1" y="1651.57" width="48.42" height="6.92" fill="#52ADFF"/>
<rect x="527.1" y="1658.49" width="48.42" height="344.01" fill="#FF78FF"/>
<rect x="575.52" y="1590" width="48.42" height="0.48" fill="#FA1F37"/>
<rect x="575.52" y="1590.48" width="48.42" height="5.33" fill="#37951F"/>
<rect x="575.52" y="1595.81" width="48.42" height="22.62" fill="#F32CAE"/>
<rect x="575.52" y="1618.43" width="48.42" height="5.48" fill="#EEE34D"/>
<rect x="575.52" y="1623.9" width="48.42" height="5.76" fill="#760C14"/>
<rect x="575.52" y="1629.67" width="48.42" height="6.05" fill="#66FFCC"/>
<rect x="575.52" y="1635.72" width="48.42" height="8.65" fill="#B31BFF"/>
<rect x="575.52" y="1644.37" width="48.42" height="2.88" fill="#F26B3C"/>
<rect x="575.52" y="1647.25" width="48.42" height="3.31" fill="#22468A"/>
<rect x="575.52" y="1650.56" width="48.42" height="3.6" fill="#52ADFF"/>
<rect x="575.52" y="1654.16" width="48.42" height="348.34" fill="#FF78FF"/>
<rect x="623.94" y="1590" width="48.42" height="0.48" fill="#FA1F37"/>
<rect x="623.94" y="1590.48" width="48.42" height="5.33" fill="#37951F"/>
<rect x="623.94" y="1595.81" width="48.42" height="25.22" fill="#F32CAE"/>
<rect x="623.94" y="1621.02" width="48.42" height="7.93" fill="#EEE34D"/>
<rect x="623.94" y="1628.95" width="48.42" height="4.32" fill="#760C14"/>
<rect x="623.94" y="1633.27" width="48.42" height="9.08" fill="#66FFCC"/>
<rect x="623.94" y="1642.35" width="48.42" height="7.49" fill="#B31BFF"/>
<rect x="623.94" y="1649.84" width="48.42" height="6.05" fill="#F26B3C"/>
<rect x="623.94" y="1655.89" width="48.42" height="2.88" fill="#22468A"/>
<rect x="623.94" y="1658.78" width="48.42" height="5.48" fill="#52ADFF"/>
<rect x="623.94" y="1664.25" width="48.42" height="338.25" fill="#FF78FF"/>
<rect x="672.36" y="1590" width="48.42" height="0.48" fill="#FA1F37"/>
<rect x="672.36" y="1590.48" width="48.42" height="1.73" fill="#37951F"/>
<rect x="672.36" y="1592.2" width="48.42" height="7.49" fill="#4BFF1E"/>
<rect x="672.36" y="1599.7" width="48.42" height="27.09" fill="#F32CAE"/>
<rect x="672.36" y="1626.79" width="48.42" height="6.05" fill="#EEE34D"/>
<rect x="672.36" y="1632.84" width="48.42" height="5.76" fill="#760C14"/>
<rect x="672.36" y="1638.6" width="48.42" height="8.07" fill="#66FFCC"/>
<rect x="672.36" y="1646.67" width="48.42" height="3.17" fill="#B31BFF"/>
<rect x="672.36" y="1649.84" width="48.42" height="5.76" fill="#F26B3C"/>
<rect x="672.36" y="1655.61" width="48.42" height="4.32" fill="#22468A"/>
<rect x="672.36" y="1659.93" width="48.42" height="5.04" fill="#52ADFF"/>
<rect x="672.36" y="1664.97" width="48.42" height="337.53" fill="#FF78FF"/>
<rect x="720.78" y="1590" width="48.42" height="0.48" fill="#FA1F37"/>
<rect x="720.78" y="1590.48" width="48.42" height="4.61" fill="#37951F"/>
<rect x="720.78" y="1595.09" width="48.42" height="4.32" fill="#4BFF1E"/>
<rect x="720.78" y="1599.41" width="48.42" height="38.9" fill="#F32CAE"/>
<rect x="720.78" y="1638.31" width="48.42" height="11.53" fill="#EEE34D"/>
<rect x="720.78" y="1649.84" width="48.42" height="8.65" fill="#760C14"/>
<rect x="720.78" y="1658.49" width="48.42" height="5.04" fill="#66FFCC"/>
<rect x="720.78" y="1663.53" width="48.42" height="7.2" fill="#B31BFF"/>
<rect x="720.78" y="1670.73" width="48.42" height="6.48" fill="#F26B3C"/>
<rect x="720.78" y="1677.22" width="48.42" height="4.61" fill="#22468A"/>
<rect x="720.78" y="1681.83" width="48.42" height="11.53" fill="#52ADFF"/>
<rect x="720.78" y="1693.36" width="48.42" height="309.14" fill="#FF78FF"/>
<rect x="769.2" y="1590" width="48.42" height="0.19" fill="#FA1F37"/>
<rect x="769.2" y="1590.19" width="48.42" height="10.03" fill="#37951F"/>
<rect x="769.2" y="1600.22" width="48.42" height="8.13" fill="#4BFF1E"/>
<rect x="769.2" y="1608.34" width="48.42" height="38.04" fill="#F32CAE"/>
<rect x="769.2" y="1646.39" width="48.42" height="16.43" fill="#EEE34D"/>
<rect x="769.2" y="1662.81" width="48.42" height="4.84" fill="#760C14"/>
<rect x="769.2" y="1667.66" width="48.42" height="8.65" fill="#66FFCC"/>
<rect x="769.2" y="1676.3" width="48.42" height="8.65" fill="#B31BFF"/>
<rect x="769.2" y="1684.95" width="48.42" height="4.67" fill="#F26B3C"/>
<rect x="769.2" y="1689.62" width="48.42" height="4.32" fill="#22468A"/>
<rect x="769.2" y="1693.94" width="48.42" height="8.3" fill="#52ADFF"/>
<rect x="769.2" y="1702.24" width="48.42" height="300.26" fill="#FF78FF"/>
<rect x="817.62" y="1590" width="48.42" height="0.19" fill="#FA1F37"/>
<rect x="817.62" y="1590.19" width="48.42" height="10.38" fill="#37951F"/>
<rect x="817.62" y="1600.56" width="48.42" height="6.05" fill="#4BFF1E"/>
<rect x="817.62" y="1606.62" width="48.42" height="38.04" fill="#F32CAE"/>
<rect x="817.62" y="1644.66" width="48.42" height="13.83" fill="#EEE34D"/>
<rect x="817.62" y="1658.49" width="48.42" height="5.19" fill="#760C14"/>
<rect x="817.62" y="1663.68" width="48.42" height="12.1" fill="#66FFCC"/>
<rect x="817.62" y="1675.78" width="48.42" height="7.44" fill="#B31BFF"/>
<rect x="817.62" y="1683.22" width="48.42" height="8.13" fill="#F26B3C"/>
<rect x="817.62" y="1691.35" width="48.42" height="3.46" fill="#22468A"/>
<rect x="817.62" y="1694.8" width="48.42" height="11.24" fill="#52ADFF"/>
<rect x="817.62" y="1706.04" width="48.42" height="296.46" fill="#FF78FF"/>
<rect x="866.04" y="1590" width="48.42" height="0.19" fill="#FA1F37"/>
<rect x="866.04" y="1590.19" width="48.42" height="10.03" fill="#37951F"/>
<rect x="866.04" y="1600.22" width="48.42" height="37.52" fill="#F32CAE"/>
<rect x="866.04" y="1637.74" width="48.42" height="12.62" fill="#EEE34D"/>
<rect x="866.04" y="1650.36" width="48.42" height="5.19" fill="#760C14"/>
<rect x="866.04" y="1655.55" width="48.42" height="8.13" fill="#66FFCC"/>
<rect x="866.04" y="1663.68" width="48.42" height="9.51" fill="#B31BFF"/>
<rect x="866.04" y="1673.19" width="48.42" height="13.83" fill="#F26B3C"/>
<rect x="866.04" y="1687.02" width="48.42" height="3.8" fill="#22468A"/>
<rect x="866.04" y="1690.83" width="48.42" height="16.95" fill="#52ADFF"/>
<rect x="866.04" y="1707.77" width="48.42" height="294.73" fill="#FF78FF"/>
<rect x="914.46" y="1590" width="48.42" height="4.51" fill="#FA1F37"/>
<rect x="914.46" y="1594.51" width="48.42" height="6.92" fill="#37951F"/>
<rect x="914.46" y="1601.43" width="48.42" height="12.97" fill="#4BFF1E"/>
<rect x="914.46" y="1614.4" width="48.42" height="51.01" fill="#F32CAE"/>
<rect x="914.46" y="1665.41" width="48.42" height="10.38" fill="#EEE34D"/>
<rect x="914.46" y="1675.78" width="48.42" height="6.4" fill="#760C14"/>
<rect x="914.46" y="1682.18" width="48.42" height="7.95" fill="#66FFCC"/>
<rect x="914.46" y="1690.14" width="48.42" height="6.4" fill="#B31BFF"/>
<rect x="914.46" y="1696.53" width="48.42" height="8.13" fill="#F26B3C"/>
<rect x="914.46" y="1704.66" width="48.42" height="9.16" fill="#22468A"/>
<rect x="914.46" y="1713.83" width="48.42" height="6.4" fill="#52ADFF"/>
<rect x="914.46" y="1720.22" width="48.42" height="282.28" fill="#FF78FF"/>
<rect x="962.88" y="1590" width="48.42" height="0.19" fill="#FA1F37"/>
<rect x="962.88" y="1590.19" width="48.42" height="7.26" fill="#37951F"/>
<rect x="962.88" y="1597.45" width="48.42" height="7.44" fill="#4BFF1E"/>
<rect x="962.88" y="1604.89" width="48.42" height="69.17" fill="#F32CAE"/>
<rect x="962.88" y="1674.05" width="48.42" height="25.94" fill="#EEE34D"/>
<rect x="962.88" y="1699.99" width="48.42" height="8.13" fill="#760C14"/>
<rect x="962.88" y="1708.12" width="48.42" height="12.62" fill="#66FFCC"/>
<rect x="962.88" y="1720.74" width="48.42" height="12.1" fill="#B31BFF"/>
<rect x="962.88" y="1732.85" width="48.42" height="15.56" fill="#F26B3C"/>
<rect x="962.88" y="1748.41" width="48.42" height="6.92" fill="#22468A"/>
<rect x="962.88" y="1755.33" width="48.42" height="6.92" fill="#52ADFF"/>
<rect x="962.88" y="1762.24" width="48.42" height="240.26" fill="#FF78FF"/>
<rect x="1011.3" y="1590" width="48.42" height="0.19" fill="#FA1F37"/>
<rect x="1011.3" y="1590.19" width="48.42" height="8.65" fill="#37951F"/>
<rect x="1011.3" y="1598.83" width="48.42" height="7.26" fill="#4BFF1E"/>
<rect x="1011.3" y="1606.1" width="48.42" height="100.81" fill="#F32CAE"/>
<rect x="1011.3" y="1706.91" width="48.42" height="19.02" fill="#EEE34D"/>
<rect x="1011.3" y="1725.93" width="48.42" height="19.89" fill="#760C14"/>
<rect x="1011.3" y="1745.82" width="48.42" height="12.1" fill="#66FFCC"/>
<rect x="1011.3" y="1757.92" width="48.42" height="18.16" fill="#B31BFF"/>
<rect x="1011.3" y="1776.08" width="48.42" height="17.29" fill="#F26B3C"/>
<rect x="1011.3" y="1793.37" width="48.42" height="5.19" fill="#22468A"/>
<rect x="1011.3" y="1798.56" width="48.42" height="13.83" fill="#52ADFF"/>
<rect x="1011.3" y="1812.39" width="48.42" height="190.11" fill="#FF78FF"/>
<line x1="280" y1="2021.7" x2="1064.5" y2="2021.7" stroke="#4F4F4F" stroke-width="4.2"/>
<line x1="309.21" y1="2021.7" x2="309.21" y2="2030.2" stroke="#4F4F4F" stroke-width="3.6"/>
<line x1="357.63" y1="2021.7" x2="357.63" y2="2030.2" stroke="#4F4F4F" stroke-width="3.6"/>
<line x1="406.05" y1="2021.7" x2="406.05" y2="2030.2" stroke="#4F4F4F" stroke-width="3.6"/>
<line x1="454.47" y1="2021.7" x2="454.47" y2="2030.2" stroke="#4F4F4F" stroke-width="3.6"/>
<line x1="502.89" y1="2021.7" x2="502.89" y2="2030.2" stroke="#4F4F4F" stroke-width="3.6"/>
<line x1="551.31" y1="2021.7" x2="551.31" y2="2030.2" stroke="#4F4F4F" stroke-width="3.6"/>
<line x1="599.73" y1="2021.7" x2="599.73" y2="2030.2" stroke="#4F4F4F" stroke-width="3.6"/>
<line x1="648.15" y1="2021.7" x2="648.15" y2="2030.2" stroke="#4F4F4F" stroke-width="3.6"/>
<line x1="696.57" y1="2021.7" x2="696.57" y2="2030.2" stroke="#4F4F4F" stroke-width="3.6"/>
<line x1="744.99" y1="2021.7" x2="744.99" y2="2030.2" stroke="#4F4F4F" stroke-width="3.6"/>
<line x1="793.41" y1="2021.7" x2="793.41" y2="2030.2" stroke="#4F4F4F" stroke-width="3.6"/>
<line x1="841.83" y1="2021.7" x2="841.83" y2="2030.2" stroke="#4F4F4F" stroke-width="3.6"/>
<line x1="890.25" y1="2021.7" x2="890.25" y2="2030.2" stroke="#4F4F4F" stroke-width="3.6"/>
<line x1="938.67" y1="2021.7" x2="938.67" y2="2030.2" stroke="#4F4F4F" stroke-width="3.6"/>
<line x1="987.09" y1="2021.7" x2="987.09" y2="2030.2" stroke="#4F4F4F" stroke-width="3.6"/>
<line x1="1035.51" y1="2021.7" x2="1035.51" y2="2030.2" stroke="#4F4F4F" stroke-width="3.6"/>
<rect x="1094.6" y="1590" width="48.42" height="0.19" fill="#FA1F37"/>
<rect x="1094.6" y="1590.19" width="48.42" height="10.38" fill="#37951F"/>
<rect x="1094.6" y="1600.56" width="48.42" height="5.19" fill="#4BFF1E"/>
<rect x="1094.6" y="1605.75" width="48.42" height="29.74" fill="#F32CAE"/>
<rect x="1094.6" y="1635.49" width="48.42" height="21.27" fill="#EEE34D"/>
<rect x="1094.6" y="1656.76" width="48.42" height="2.25" fill="#760C14"/>
<rect x="1094.6" y="1659.01" width="48.42" height="12.45" fill="#66FFCC"/>
<rect x="1094.6" y="1671.46" width="48.42" height="11.76" fill="#B31BFF"/>
<rect x="1094.6" y="1683.22" width="48.42" height="20.75" fill="#F26B3C"/>
<rect x="1094.6" y="1703.97" width="48.42" height="6.92" fill="#22468A"/>
<rect x="1094.6" y="1710.89" width="48.42" height="11.07" fill="#52ADFF"/>
<rect x="1094.6" y="1721.95" width="48.42" height="280.55" fill="#FF78FF"/>
<rect x="1143.02" y="1590" width="48.42" height="0.19" fill="#FA1F37"/>
<rect x="1143.02" y="1590.19" width="48.42" height="8.65" fill="#37951F"/>
<rect x="1143.02" y="1598.83" width="48.42" height="4.32" fill="#4BFF1E"/>
<rect x="1143.02" y="1603.16" width="48.42" height="29.92" fill="#F32CAE"/>
<rect x="1143.02" y="1633.07" width="48.42" height="15.04" fill="#EEE34D"/>
<rect x="1143.02" y="1648.12" width="48.42" height="7.78" fill="#760C14"/>
<rect x="1143.02" y="1655.9" width="48.42" height="21.62" fill="#66FFCC"/>
<rect x="1143.02" y="1677.51" width="48.42" height="8.65" fill="#B31BFF"/>
<rect x="1143.02" y="1686.16" width="48.42" height="13.83" fill="#F26B3C"/>
<rect x="1143.02" y="1699.99" width="48.42" height="5.71" fill="#22468A"/>
<rect x="1143.02" y="1705.7" width="48.42" height="17.29" fill="#52ADFF"/>
<rect x="1143.02" y="1722.99" width="48.42" height="279.51" fill="#FF78FF"/>
<rect x="1191.44" y="1590" width="48.42" height="0.19" fill="#FA1F37"/>
<rect x="1191.44" y="1590.19" width="48.42" height="7.78" fill="#37951F"/>
<rect x="1191.44" y="1597.97" width="48.42" height="4.32" fill="#4BFF1E"/>
<rect x="1191.44" y="1602.29" width="48.42" height="34.24" fill="#F32CAE"/>
<rect x="1191.44" y="1636.53" width="48.42" height="21.96" fill="#EEE34D"/>
<rect x="1191.44" y="1658.49" width="48.42" height="8.65" fill="#760C14"/>
<rect x="1191.44" y="1667.14" width="48.42" height="19.54" fill="#66FFCC"/>
<rect x="1191.44" y="1686.68" width="48.42" height="8.13" fill="#B31BFF"/>
<rect x="1191.44" y="1694.8" width="48.42" height="12.1" fill="#F26B3C"/>
<rect x="1191.44" y="1706.91" width="48.42" height="3.46" fill="#22468A"/>
<rect x="1191.44" y="1710.37" width="48.42" height="13.31" fill="#52ADFF"/>
<rect x="1191.44" y="1723.68" width="48.42" height="278.82" fill="#FF78FF"/>
<rect x="1239.86" y="1590" width="48.42" height="0.19" fill="#FA1F37"/>
<rect x="1239.86" y="1590.19" width="48.42" height="8.65" fill="#37951F"/>
<rect x="1239.86" y="1598.83" width="48.42" height="3.46" fill="#4BFF1E"/>
<rect x="1239.86" y="1602.29" width="48.42" height="33.72" fill="#F32CAE"/>
<rect x="1239.86" y="1636.01" width="48.42" height="19.02" fill="#EEE34D"/>
<rect x="1239.86" y="1655.03" width="48.42" height="7.78" fill="#760C14"/>
<rect x="1239.86" y="1662.81" width="48.42" height="16.43" fill="#66FFCC"/>
<rect x="1239.86" y="1679.24" width="48.42" height="7.78" fill="#B31BFF"/>
<rect x="1239.86" y="1687.02" width="48.42" height="18.16" fill="#F26B3C"/>
<rect x="1239.86" y="1705.18" width="48.42" height="3.46" fill="#22468A"/>
<rect x="1239.86" y="1708.64" width="48.42" height="16.77" fill="#52ADFF"/>
<rect x="1239.86" y="1725.41" width="48.42" height="277.09" fill="#FF78FF"/>
<rect x="1288.28" y="1590" width="48.42" height="0.19" fill="#FA1F37"/>
<rect x="1288.28" y="1590.19" width="48.42" height="7.26" fill="#37951F"/>
<rect x="1288.28" y="1597.45" width="48.42" height="3.98" fill="#4BFF1E"/>
<rect x="1288.28" y="1601.43" width="48.42" height="34.58" fill="#F32CAE"/>
<rect x="1288.28" y="1636.01" width="48.42" height="18.5" fill="#EEE34D"/>
<rect x="1288.28" y="1654.51" width="48.42" height="9.68" fill="#760C14"/>
<rect x="1288.28" y="1664.2" width="48.42" height="17.98" fill="#66FFCC"/>
<rect x="1288.28" y="1682.18" width="48.42" height="8.65" fill="#B31BFF"/>
<rect x="1288.28" y="1690.83" width="48.42" height="12.1" fill="#F26B3C"/>
<rect x="1288.28" y="1702.93" width="48.42" height="5.19" fill="#22468A"/>
<rect x="1288.28" y="1708.12" width="48.42" height="19.54" fill="#52ADFF"/>
<rect x="1288.28" y="1727.66" width="48.42" height="274.84" fill="#FF78FF"/>
<rect x="1336.7" y="1590" width="48.42" height="0.19" fill="#FA1F37"/>
<rect x="1336.7" y="1590.19" width="48.42" height="8.65" fill="#37951F"/>
<rect x="1336.7" y="1598.83" width="48.42" height="5.19" fill="#4BFF1E"/>
<rect x="1336.7" y="1604.02" width="48.42" height="38.04" fill="#F32CAE"/>
<rect x="1336.7" y="1642.06" width="48.42" height="17.64" fill="#EEE34D"/>
<rect x="1336.7" y="1659.7" width="48.42" height="10.03" fill="#760C14"/>
<rect x="1336.7" y="1669.73" width="48.42" height="17.29" fill="#66FFCC"/>
<rect x="1336.7" y="1687.02" width="48.42" height="10.03" fill="#B31BFF"/>
<rect x="1336.7" y="1697.05" width="48.42" height="13.83" fill="#F26B3C"/>
<rect x="1336.7" y="1710.89" width="48.42" height="5.88" fill="#22468A"/>
<rect x="1336.7" y="1716.77" width="48.42" height="13.14" fill="#52ADFF"/>
<rect x="1336.7" y="1729.91" width="48.42" height="272.59" fill="#FF78FF"/>
<rect x="1385.12" y="1590" width="48.42" height="0.19" fill="#FA1F37"/>
<rect x="1385.12" y="1590.19" width="48.42" height="8.65" fill="#37951F"/>
<rect x="1385.12" y="1598.83" width="48.42" height="4.32" fill="#4BFF1E"/>
<rect x="1385.12" y="1603.16" width="48.42" height="38.04" fill="#F32CAE"/>
<rect x="1385.12" y="1641.2" width="48.42" height="21.27" fill="#EEE34D"/>
<rect x="1385.12" y="1662.47" width="48.42" height="4.67" fill="#760C14"/>
<rect x="1385.12" y="1667.14" width="48.42" height="18.16" fill="#66FFCC"/>
<rect x="1385.12" y="1685.29" width="48.42" height="6.57" fill="#B31BFF"/>
<rect x="1385.12" y="1691.86" width="48.42" height="18.5" fill="#F26B3C"/>
<rect x="1385.12" y="1710.37" width="48.42" height="3.46" fill="#22468A"/>
<rect x="1385.12" y="1713.83" width="48.42" height="17.29" fill="#52ADFF"/>
<rect x="1385.12" y="1731.12" width="48.42" height="271.38" fill="#FF78FF"/>
<rect x="1433.54" y="1590" width="48.42" height="1.92" fill="#FA1F37"/>
<rect x="1433.54" y="1591.92" width="48.42" height="6.05" fill="#37951F"/>
<rect x="1433.54" y="1597.97" width="48.42" height="5.19" fill="#4BFF1E"/>
<rect x="1433.54" y="1603.16" width="48.42" height="37.52" fill="#F32CAE"/>
<rect x="1433.54" y="1640.68" width="48.42" height="16.95" fill="#EEE34D"/>
<rect x="1433.54" y="1657.63" width="48.42" height="7.26" fill="#760C14"/>
<rect x="1433.54" y="1664.89" width="48.42" height="13.83" fill="#66FFCC"/>
<rect x="1433.54" y="1678.72" width="48.42" height="13.49" fill="#B31BFF"/>
<rect x="1433.54" y="1692.21" width="48.42" height="16.43" fill="#F26B3C"/>
<rect x="1433.54" y="1708.64" width="48.42" height="5.19" fill="#22468A"/>
<rect x="1433.54" y="1713.83" width="48.42" height="19.02" fill="#52ADFF"/>
<rect x="1433.54" y="1732.85" width="48.42" height="269.65" fill="#FF78FF"/>
<rect x="1481.96" y="1590" width="48.42" height="0.19" fill="#FA1F37"/>
<rect x="1481.96" y="1590.19" width="48.42" height="7.78" fill="#37951F"/>
<rect x="1481.96" y="1597.97" width="48.42" height="4.32" fill="#4BFF1E"/>
<rect x="1481.96" y="1602.29" width="48.42" height="34.24" fill="#F32CAE"/>
<rect x="1481.96" y="1636.53" width="48.42" height="19.37" fill="#EEE34D"/>
<rect x="1481.96" y="1655.9" width="48.42" height="7.78" fill="#760C14"/>
<rect x="1481.96" y="1663.68" width="48.42" height="20.23" fill="#66FFCC"/>
<rect x="1481.96" y="1683.91" width="48.42" height="6.92" fill="#B31BFF"/>
<rect x="1481.96" y="1690.83" width="48.42" height="20.4" fill="#F26B3C"/>
<rect x="1481.96" y="1711.23" width="48.42" height="5.19" fill="#22468A"/>
<rect x="1481.96" y="1716.42" width="48.42" height="17.64" fill="#52ADFF"/>
<rect x="1481.96" y="1734.06" width="48.42" height="268.44" fill="#FF78FF"/>
<rect x="1530.38" y="1590" width="48.42" height="1.57" fill="#FA1F37"/>
<rect x="1530.38" y="1591.57" width="48.42" height="6.4" fill="#37951F"/>
<rect x="1530.38" y="1597.97" width="48.42" height="6.05" fill="#4BFF1E"/>
<rect x="1530.38" y="1604.02" width="48.42" height="34.58" fill="#F32CAE"/>
<rect x="1530.38" y="1638.61" width="48.42" height="23.34" fill="#EEE34D"/>
<rect x="1530.38" y="1661.95" width="48.42" height="3.46" fill="#760C14"/>
<rect x="1530.38" y="1665.41" width="48.42" height="19.54" fill="#66FFCC"/>
<rect x="1530.38" y="1684.95" width="48.42" height="14.53" fill="#B31BFF"/>
<rect x="1530.38" y="1699.47" width="48.42" height="16.08" fill="#F26B3C"/>
<rect x="1530.38" y="1715.56" width="48.42" height="8.65" fill="#22468A"/>
<rect x="1530.38" y="1724.2" width="48.42" height="14.7" fill="#52ADFF"/>
<rect x="1530.38" y="1738.9" width="48.42" height="263.6" fill="#FF78FF"/>
<rect x="1578.8" y="1590" width="48.42" height="1.57" fill="#FA1F37"/>
<rect x="1578.8" y="1591.57" width="48.42" height="6.4" fill="#37951F"/>
<rect x="1578.8" y="1597.97" width="48.42" height="5.19" fill="#4BFF1E"/>
<rect x="1578.8" y="1603.16" width="48.42" height="35.45" fill="#F32CAE"/>
<rect x="1578.8" y="1638.61" width="48.42" height="22.83" fill="#EEE34D"/>
<rect x="1578.8" y="1661.43" width="48.42" height="6.23" fill="#760C14"/>
<rect x="1578.8" y="1667.66" width="48.42" height="17.29" fill="#66FFCC"/>
<rect x="1578.8" y="1684.95" width="48.42" height="10.38" fill="#B31BFF"/>
<rect x="1578.8" y="1695.32" width="48.42" height="20.23" fill="#F26B3C"/>
<rect x="1578.8" y="1715.56" width="48.42" height="4.32" fill="#22468A"/>
<rect x="1578.8" y="1719.88" width="48.42" height="23.34" fill="#52ADFF"/>
<rect x="1578.8" y="1743.22" width="48.42" height="259.28" fill="#FF78FF"/>
<line x1="1090" y1="2021.7" x2="1632" y2="2021.7" stroke="#4F4F4F" stroke-width="4.2"/>
<line x1="1118.81" y1="2021.7" x2="1118.81" y2="2030.2" stroke="#4F4F4F" stroke-width="3.6"/>
<line x1="1167.23" y1="2021.7" x2="1167.23" y2="2030.2" stroke="#4F4F4F" stroke-width="3.6"/>
<line x1="1215.65" y1="2021.7" x2="1215.65" y2="2030.2" stroke="#4F4F4F" stroke-width="3.6"/>
<line x1="1264.07" y1="2021.7" x2="1264.07" y2="2030.2" stroke="#4F4F4F" stroke-width="3.6"/>
<line x1="1312.49" y1="2021.7" x2="1312.49" y2="2030.2" stroke="#4F4F4F" stroke-width="3.6"/>
<line x1="1360.91" y1="2021.7" x2="1360.91" y2="2030.2" stroke="#4F4F4F" stroke-width="3.6"/>
<line x1="1409.33" y1="2021.7" x2="1409.33" y2="2030.2" stroke="#4F4F4F" stroke-width="3.6"/>
<line x1="1457.75" y1="2021.7" x2="1457.75" y2="2030.2" stroke="#4F4F4F" stroke-width="3.6"/>
<line x1="1506.17" y1="2021.7" x2="1506.17" y2="2030.2" stroke="#4F4F4F" stroke-width="3.6"/>
<line x1="1554.59" y1="2021.7" x2="1554.59" y2="2030.2" stroke="#4F4F4F" stroke-width="3.6"/>
<line x1="1603.01" y1="2021.7" x2="1603.01" y2="2030.2" stroke="#4F4F4F" stroke-width="3.6"/>
<rect x="1662.5" y="1590" width="48.42" height="0.19" fill="#FA1F37"/>
<rect x="1662.5" y="1590.19" width="48.42" height="412.31" fill="#FF78FF"/>
<rect x="1662.5" y="1590" width="48.42" height="1.85" fill="#E070E8"/>
<rect x="1710.92" y="1590" width="48.42" height="0.19" fill="#FA1F37"/>
<rect x="1710.92" y="1590.19" width="48.42" height="412.31" fill="#FF78FF"/>
<rect x="1710.92" y="1590" width="48.42" height="1.64" fill="#E070E8"/>
<rect x="1759.34" y="1590" width="48.42" height="0.19" fill="#FA1F37"/>
<rect x="1759.34" y="1590.19" width="48.42" height="412.31" fill="#FF78FF"/>
<rect x="1759.34" y="1590" width="48.42" height="4.34" fill="#B85A92"/>
<rect x="1807.76" y="1590" width="48.42" height="0.19" fill="#FA1F37"/>
<rect x="1807.76" y="1590.19" width="48.42" height="412.31" fill="#FF78FF"/>
<rect x="1807.76" y="1590" width="48.42" height="7.45" fill="#AE626E"/>
<rect x="1856.18" y="1590" width="48.42" height="0.19" fill="#FA1F37"/>
<rect x="1856.18" y="1590.19" width="48.42" height="412.31" fill="#FF78FF"/>
<rect x="1856.18" y="1590" width="48.42" height="8.49" fill="#B45890"/>
<rect x="1904.6" y="1590" width="48.42" height="0.19" fill="#FA1F37"/>
<rect x="1904.6" y="1590.19" width="48.42" height="412.31" fill="#FF78FF"/>
<rect x="1904.6" y="1590" width="48.42" height="8.49" fill="#C25468"/>
<rect x="1953.02" y="1590" width="48.42" height="0.19" fill="#FA1F37"/>
<rect x="1953.02" y="1590.19" width="48.42" height="6.85" fill="#37951F"/>
<rect x="1953.02" y="1597.04" width="48.42" height="4.57" fill="#4BFF1E"/>
<rect x="1953.02" y="1601.6" width="48.42" height="30.71" fill="#F32CAE"/>
<rect x="1953.02" y="1632.31" width="48.42" height="18.05" fill="#EEE34D"/>
<rect x="1953.02" y="1650.37" width="48.42" height="7.68" fill="#760C14"/>
<rect x="1953.02" y="1658.04" width="48.42" height="18.26" fill="#66FFCC"/>
<rect x="1953.02" y="1676.31" width="48.42" height="12.04" fill="#B31BFF"/>
<rect x="1953.02" y="1688.34" width="48.42" height="15.98" fill="#F26B3C"/>
<rect x="1953.02" y="1704.32" width="48.42" height="4.15" fill="#22468A"/>
<rect x="1953.02" y="1708.47" width="48.42" height="14.53" fill="#52ADFF"/>
<rect x="1953.02" y="1723" width="48.42" height="279.5" fill="#FF78FF"/>
<line x1="1658" y1="2021.7" x2="2006.5" y2="2021.7" stroke="#4F4F4F" stroke-width="4.2"/>
<line x1="1686.71" y1="2021.7" x2="1686.71" y2="2030.2" stroke="#4F4F4F" stroke-width="3.6"/>
<line x1="1735.13" y1="2021.7" x2="1735.13" y2="2030.2" stroke="#4F4F4F" stroke-width="3.6"/>
<line x1="1783.55" y1="2021.7" x2="1783.55" y2="2030.2" stroke="#4F4F4F" stroke-width="3.6"/>
<line x1="1831.97" y1="2021.7" x2="1831.97" y2="2030.2" stroke="#4F4F4F" stroke-width="3.6"/>
<line x1="1880.39" y1="2021.7" x2="1880.39" y2="2030.2" stroke="#4F4F4F" stroke-width="3.6"/>
<line x1="1928.81" y1="2021.7" x2="1928.81" y2="2030.2" stroke="#4F4F4F" stroke-width="3.6"/>
<line x1="1977.23" y1="2021.7" x2="1977.23" y2="2030.2" stroke="#4F4F4F" stroke-width="3.6"/>
<line x1="201.6" y1="1590" x2="201.6" y2="2002.5" stroke="#fff" stroke-opacity="0.55" stroke-width="1.6"/>
<line x1="333.42" y1="1590" x2="333.42" y2="2002.5" stroke="#fff" stroke-opacity="0.55" stroke-width="1.6"/>
<line x1="381.84" y1="1590" x2="381.84" y2="2002.5" stroke="#fff" stroke-opacity="0.55" stroke-width="1.6"/>
<line x1="430.26" y1="1590" x2="430.26" y2="2002.5" stroke="#fff" stroke-opacity="0.55" stroke-width="1.6"/>
<line x1="478.68" y1="1590" x2="478.68" y2="2002.5" stroke="#fff" stroke-opacity="0.55" stroke-width="1.6"/>
<line x1="527.1" y1="1590" x2="527.1" y2="2002.5" stroke="#fff" stroke-opacity="0.55" stroke-width="1.6"/>
<line x1="575.52" y1="1590" x2="575.52" y2="2002.5" stroke="#fff" stroke-opacity="0.55" stroke-width="1.6"/>
<line x1="623.94" y1="1590" x2="623.94" y2="2002.5" stroke="#fff" stroke-opacity="0.55" stroke-width="1.6"/>
<line x1="672.36" y1="1590" x2="672.36" y2="2002.5" stroke="#fff" stroke-opacity="0.55" stroke-width="1.6"/>
<line x1="720.78" y1="1590" x2="720.78" y2="2002.5" stroke="#fff" stroke-opacity="0.55" stroke-width="1.6"/>
<line x1="769.2" y1="1590" x2="769.2" y2="2002.5" stroke="#fff" stroke-opacity="0.55" stroke-width="1.6"/>
<line x1="817.62" y1="1590" x2="817.62" y2="2002.5" stroke="#fff" stroke-opacity="0.55" stroke-width="1.6"/>
<line x1="866.04" y1="1590" x2="866.04" y2="2002.5" stroke="#fff" stroke-opacity="0.55" stroke-width="1.6"/>
<line x1="914.46" y1="1590" x2="914.46" y2="2002.5" stroke="#fff" stroke-opacity="0.55" stroke-width="1.6"/>
<line x1="962.88" y1="1590" x2="962.88" y2="2002.5" stroke="#fff" stroke-opacity="0.55" stroke-width="1.6"/>
<line x1="1011.3" y1="1590" x2="1011.3" y2="2002.5" stroke="#fff" stroke-opacity="0.55" stroke-width="1.6"/>
<line x1="1143.02" y1="1590" x2="1143.02" y2="2002.5" stroke="#fff" stroke-opacity="0.55" stroke-width="1.6"/>
<line x1="1191.44" y1="1590" x2="1191.44" y2="2002.5" stroke="#fff" stroke-opacity="0.55" stroke-width="1.6"/>
<line x1="1239.86" y1="1590" x2="1239.86" y2="2002.5" stroke="#fff" stroke-opacity="0.55" stroke-width="1.6"/>
<line x1="1288.28" y1="1590" x2="1288.28" y2="2002.5" stroke="#fff" stroke-opacity="0.55" stroke-width="1.6"/>
<line x1="1336.7" y1="1590" x2="1336.7" y2="2002.5" stroke="#fff" stroke-opacity="0.55" stroke-width="1.6"/>
<line x1="1385.12" y1="1590" x2="1385.12" y2="2002.5" stroke="#fff" stroke-opacity="0.55" stroke-width="1.6"/>
<line x1="1433.54" y1="1590" x2="1433.54" y2="2002.5" stroke="#fff" stroke-opacity="0.55" stroke-width="1.6"/>
<line x1="1481.96" y1="1590" x2="1481.96" y2="2002.5" stroke="#fff" stroke-opacity="0.55" stroke-width="1.6"/>
<line x1="1530.38" y1="1590" x2="1530.38" y2="2002.5" stroke="#fff" stroke-opacity="0.55" stroke-width="1.6"/>
<line x1="1578.8" y1="1590" x2="1578.8" y2="2002.5" stroke="#fff" stroke-opacity="0.55" stroke-width="1.6"/>
<line x1="1710.92" y1="1590" x2="1710.92" y2="2002.5" stroke="#fff" stroke-opacity="0.55" stroke-width="1.6"/>
<line x1="1759.34" y1="1590" x2="1759.34" y2="2002.5" stroke="#fff" stroke-opacity="0.55" stroke-width="1.6"/>
<line x1="1807.76" y1="1590" x2="1807.76" y2="2002.5" stroke="#fff" stroke-opacity="0.55" stroke-width="1.6"/>
<line x1="1856.18" y1="1590" x2="1856.18" y2="2002.5" stroke="#fff" stroke-opacity="0.55" stroke-width="1.6"/>
<line x1="1904.6" y1="1590" x2="1904.6" y2="2002.5" stroke="#fff" stroke-opacity="0.55" stroke-width="1.6"/>
<line x1="1953.02" y1="1590" x2="1953.02" y2="2002.5" stroke="#fff" stroke-opacity="0.55" stroke-width="1.6"/>
<line x1="149" y1="1571.9" x2="149" y2="2023.2" stroke="#000" stroke-width="3"/>
<line x1="139.5" y1="1592.2" x2="149" y2="1592.2" stroke="#333" stroke-width="2.6"/>
<text x="131.3" y="1608" class="yt">1.00</text>
<line x1="139.5" y1="1694.4" x2="149" y2="1694.4" stroke="#333" stroke-width="2.6"/>
<text x="131.3" y="1710.2" class="yt">0.75</text>
<line x1="139.5" y1="1796.6" x2="149" y2="1796.6" stroke="#333" stroke-width="2.6"/>
<text x="131.3" y="1812.4" class="yt">0.50</text>
<line x1="139.5" y1="1898.8" x2="149" y2="1898.8" stroke="#333" stroke-width="2.6"/>
<text x="131.3" y="1914.6" class="yt">0.25</text>
<line x1="139.5" y1="2001" x2="149" y2="2001" stroke="#333" stroke-width="2.6"/>
<text x="131.3" y="2016.8" class="yt">0.00</text>
<rect x="153.8" y="2075.9" width="47.8" height="9.48" fill="#FA1F37"/>
<rect x="153.8" y="2085.38" width="47.8" height="24.05" fill="#37951F"/>
<rect x="153.8" y="2109.43" width="47.8" height="9.46" fill="#4BFF1E"/>
<rect x="153.8" y="2118.89" width="47.8" height="90.09" fill="#F32CAE"/>
<rect x="153.8" y="2208.98" width="47.8" height="64.07" fill="#EEE34D"/>
<rect x="153.8" y="2273.06" width="47.8" height="10.84" fill="#760C14"/>
<rect x="153.8" y="2283.9" width="47.8" height="43.37" fill="#66FFCC"/>
<rect x="153.8" y="2327.27" width="47.8" height="26.61" fill="#B31BFF"/>
<rect x="153.8" y="2353.88" width="47.8" height="28.59" fill="#F26B3C"/>
<rect x="153.8" y="2382.47" width="47.8" height="75.9" fill="#22468A"/>
<rect x="153.8" y="2458.37" width="47.8" height="29.57" fill="#52ADFF"/>
<rect x="153.8" y="2487.94" width="47.8" height="0.26" fill="#FF78FF"/>
<rect x="201.6" y="2075.9" width="47.8" height="9.87" fill="#FA1F37"/>
<rect x="201.6" y="2085.77" width="47.8" height="23.26" fill="#37951F"/>
<rect x="201.6" y="2109.03" width="47.8" height="11.24" fill="#4BFF1E"/>
<rect x="201.6" y="2120.27" width="47.8" height="90.09" fill="#F32CAE"/>
<rect x="201.6" y="2210.36" width="47.8" height="56.78" fill="#EEE34D"/>
<rect x="201.6" y="2267.14" width="47.8" height="13.41" fill="#760C14"/>
<rect x="201.6" y="2280.55" width="47.8" height="45.34" fill="#66FFCC"/>
<rect x="201.6" y="2325.89" width="47.8" height="25.63" fill="#B31BFF"/>
<rect x="201.6" y="2351.52" width="47.8" height="30.95" fill="#F26B3C"/>
<rect x="201.6" y="2382.47" width="47.8" height="74.91" fill="#22468A"/>
<rect x="201.6" y="2457.38" width="47.8" height="30.56" fill="#52ADFF"/>
<rect x="201.6" y="2487.94" width="47.8" height="0.26" fill="#FF78FF"/>
<line x1="147.5" y1="2507.7" x2="255" y2="2507.7" stroke="#4F4F4F" stroke-width="4.2"/>
<line x1="177.7" y1="2507.7" x2="177.7" y2="2516.2" stroke="#4F4F4F" stroke-width="3.6"/>
<line x1="225.5" y1="2507.7" x2="225.5" y2="2516.2" stroke="#4F4F4F" stroke-width="3.6"/>
<rect x="285" y="2075.9" width="48.42" height="2.38" fill="#FA1F37"/>
<rect x="285" y="2078.28" width="48.42" height="17.35" fill="#37951F"/>
<rect x="285" y="2095.63" width="48.42" height="8.28" fill="#4BFF1E"/>
<rect x="285" y="2103.91" width="48.42" height="123.41" fill="#F32CAE"/>
<rect x="285" y="2227.32" width="48.42" height="73.34" fill="#EEE34D"/>
<rect x="285" y="2300.66" width="48.42" height="18.73" fill="#760C14"/>
<rect x="285" y="2319.38" width="48.42" height="28.98" fill="#66FFCC"/>
<rect x="285" y="2348.36" width="48.42" height="38.05" fill="#B31BFF"/>
<rect x="285" y="2386.41" width="48.42" height="43.96" fill="#F26B3C"/>
<rect x="285" y="2430.37" width="48.42" height="23.07" fill="#22468A"/>
<rect x="285" y="2453.44" width="48.42" height="34.5" fill="#52ADFF"/>
<rect x="285" y="2487.94" width="48.42" height="0.26" fill="#FF78FF"/>
<rect x="333.42" y="2075.9" width="48.42" height="3.96" fill="#FA1F37"/>
<rect x="333.42" y="2079.86" width="48.42" height="21.69" fill="#37951F"/>
<rect x="333.42" y="2101.54" width="48.42" height="12.81" fill="#4BFF1E"/>
<rect x="333.42" y="2114.36" width="48.42" height="112.96" fill="#F32CAE"/>
<rect x="333.42" y="2227.32" width="48.42" height="68.41" fill="#EEE34D"/>
<rect x="333.42" y="2295.73" width="48.42" height="16.36" fill="#760C14"/>
<rect x="333.42" y="2312.09" width="48.42" height="30.36" fill="#66FFCC"/>
<rect x="333.42" y="2342.45" width="48.42" height="32.13" fill="#B31BFF"/>
<rect x="333.42" y="2374.58" width="48.42" height="46.72" fill="#F26B3C"/>
<rect x="333.42" y="2421.31" width="48.42" height="23.66" fill="#22468A"/>
<rect x="333.42" y="2444.96" width="48.42" height="42.98" fill="#52ADFF"/>
<rect x="333.42" y="2487.94" width="48.42" height="0.26" fill="#FF78FF"/>
<rect x="381.84" y="2075.9" width="48.42" height="1.99" fill="#FA1F37"/>
<rect x="381.84" y="2077.89" width="48.42" height="17.74" fill="#37951F"/>
<rect x="381.84" y="2095.63" width="48.42" height="15.77" fill="#4BFF1E"/>
<rect x="381.84" y="2111.4" width="48.42" height="115.33" fill="#F32CAE"/>
<rect x="381.84" y="2226.73" width="48.42" height="78.27" fill="#EEE34D"/>
<rect x="381.84" y="2304.99" width="48.42" height="17.35" fill="#760C14"/>
<rect x="381.84" y="2322.34" width="48.42" height="33.91" fill="#66FFCC"/>
<rect x="381.84" y="2356.25" width="48.42" height="31.15" fill="#B31BFF"/>
<rect x="381.84" y="2387.4" width="48.42" height="40.41" fill="#F26B3C"/>
<rect x="381.84" y="2427.81" width="48.42" height="19.12" fill="#22468A"/>
<rect x="381.84" y="2446.93" width="48.42" height="41.01" fill="#52ADFF"/>
<rect x="381.84" y="2487.94" width="48.42" height="0.26" fill="#FF78FF"/>
<rect x="430.26" y="2075.9" width="48.42" height="1.99" fill="#FA1F37"/>
<rect x="430.26" y="2077.89" width="48.42" height="18.73" fill="#37951F"/>
<rect x="430.26" y="2096.61" width="48.42" height="15.18" fill="#4BFF1E"/>
<rect x="430.26" y="2111.79" width="48.42" height="122.82" fill="#F32CAE"/>
<rect x="430.26" y="2234.61" width="48.42" height="72.94" fill="#EEE34D"/>
<rect x="430.26" y="2307.56" width="48.42" height="14.79" fill="#760C14"/>
<rect x="430.26" y="2322.34" width="48.42" height="25.63" fill="#66FFCC"/>
<rect x="430.26" y="2347.97" width="48.42" height="35.49" fill="#B31BFF"/>
<rect x="430.26" y="2383.45" width="48.42" height="54.21" fill="#F26B3C"/>
<rect x="430.26" y="2437.67" width="48.42" height="20.7" fill="#22468A"/>
<rect x="430.26" y="2458.37" width="48.42" height="29.57" fill="#52ADFF"/>
<rect x="430.26" y="2487.94" width="48.42" height="0.26" fill="#FF78FF"/>
<rect x="478.68" y="2075.9" width="48.42" height="1.99" fill="#FA1F37"/>
<rect x="478.68" y="2077.89" width="48.42" height="18.73" fill="#37951F"/>
<rect x="478.68" y="2096.61" width="48.42" height="13.8" fill="#4BFF1E"/>
<rect x="478.68" y="2110.41" width="48.42" height="117.3" fill="#F32CAE"/>
<rect x="478.68" y="2227.71" width="48.42" height="73.93" fill="#EEE34D"/>
<rect x="478.68" y="2301.64" width="48.42" height="14.79" fill="#760C14"/>
<rect x="478.68" y="2316.43" width="48.42" height="24.64" fill="#66FFCC"/>
<rect x="478.68" y="2341.07" width="48.42" height="36.47" fill="#B31BFF"/>
<rect x="478.68" y="2377.54" width="48.42" height="41.4" fill="#F26B3C"/>
<rect x="478.68" y="2418.94" width="48.42" height="28.59" fill="#22468A"/>
<rect x="478.68" y="2447.53" width="48.42" height="40.41" fill="#52ADFF"/>
<rect x="478.68" y="2487.94" width="48.42" height="0.26" fill="#FF78FF"/>
<rect x="527.1" y="2075.9" width="48.42" height="3.96" fill="#FA1F37"/>
<rect x="527.1" y="2079.86" width="48.42" height="24.05" fill="#37951F"/>
<rect x="527.1" y="2103.91" width="48.42" height="13.8" fill="#4BFF1E"/>
<rect x="527.1" y="2117.71" width="48.42" height="107.05" fill="#F32CAE"/>
<rect x="527.1" y="2224.76" width="48.42" height="79.84" fill="#EEE34D"/>
<rect x="527.1" y="2304.6" width="48.42" height="15.38" fill="#760C14"/>
<rect x="527.1" y="2319.98" width="48.42" height="26.02" fill="#66FFCC"/>
<rect x="527.1" y="2346" width="48.42" height="34.5" fill="#B31BFF"/>
<rect x="527.1" y="2380.5" width="48.42" height="38.44" fill="#F26B3C"/>
<rect x="527.1" y="2418.94" width="48.42" height="22.67" fill="#22468A"/>
<rect x="527.1" y="2441.61" width="48.42" height="46.33" fill="#52ADFF"/>
<rect x="527.1" y="2487.94" width="48.42" height="0.26" fill="#FF78FF"/>
<rect x="575.52" y="2075.9" width="48.42" height="2.38" fill="#FA1F37"/>
<rect x="575.52" y="2078.28" width="48.42" height="19.32" fill="#37951F"/>
<rect x="575.52" y="2097.6" width="48.42" height="13.8" fill="#4BFF1E"/>
<rect x="575.52" y="2111.4" width="48.42" height="121.24" fill="#F32CAE"/>
<rect x="575.52" y="2232.64" width="48.42" height="69.99" fill="#EEE34D"/>
<rect x="575.52" y="2302.63" width="48.42" height="20.11" fill="#760C14"/>
<rect x="575.52" y="2322.74" width="48.42" height="31.15" fill="#66FFCC"/>
<rect x="575.52" y="2353.88" width="48.42" height="43.77" fill="#B31BFF"/>
<rect x="575.52" y="2397.65" width="48.42" height="33.51" fill="#F26B3C"/>
<rect x="575.52" y="2431.16" width="48.42" height="28.19" fill="#22468A"/>
<rect x="575.52" y="2459.35" width="48.42" height="28.59" fill="#52ADFF"/>
<rect x="575.52" y="2487.94" width="48.42" height="0.26" fill="#FF78FF"/>
<rect x="623.94" y="2075.9" width="48.42" height="2.97" fill="#FA1F37"/>
<rect x="623.94" y="2078.87" width="48.42" height="19.71" fill="#37951F"/>
<rect x="623.94" y="2098.59" width="48.42" height="10.84" fill="#4BFF1E"/>
<rect x="623.94" y="2109.43" width="48.42" height="106.46" fill="#F32CAE"/>
<rect x="623.94" y="2215.88" width="48.42" height="71.96" fill="#EEE34D"/>
<rect x="623.94" y="2287.84" width="48.42" height="22.28" fill="#760C14"/>
<rect x="623.94" y="2310.12" width="48.42" height="33.51" fill="#66FFCC"/>
<rect x="623.94" y="2343.63" width="48.42" height="29.97" fill="#B31BFF"/>
<rect x="623.94" y="2373.6" width="48.42" height="42.39" fill="#F26B3C"/>
<rect x="623.94" y="2415.98" width="48.42" height="23.07" fill="#22468A"/>
<rect x="623.94" y="2439.05" width="48.42" height="48.89" fill="#52ADFF"/>
<rect x="623.94" y="2487.94" width="48.42" height="0.26" fill="#FF78FF"/>
<rect x="672.36" y="2075.9" width="48.42" height="2.38" fill="#FA1F37"/>
<rect x="672.36" y="2078.28" width="48.42" height="22.28" fill="#37951F"/>
<rect x="672.36" y="2100.56" width="48.42" height="16.76" fill="#4BFF1E"/>
<rect x="672.36" y="2117.31" width="48.42" height="120.65" fill="#F32CAE"/>
<rect x="672.36" y="2237.96" width="48.42" height="67.62" fill="#EEE34D"/>
<rect x="672.36" y="2305.58" width="48.42" height="16.76" fill="#760C14"/>
<rect x="672.36" y="2322.34" width="48.42" height="29.97" fill="#66FFCC"/>
<rect x="672.36" y="2352.31" width="48.42" height="36.08" fill="#B31BFF"/>
<rect x="672.36" y="2388.38" width="48.42" height="38.84" fill="#F26B3C"/>
<rect x="672.36" y="2427.22" width="48.42" height="27.21" fill="#22468A"/>
<rect x="672.36" y="2454.43" width="48.42" height="33.51" fill="#52ADFF"/>
<rect x="672.36" y="2487.94" width="48.42" height="0.26" fill="#FF78FF"/>
<rect x="720.78" y="2075.9" width="48.42" height="3.96" fill="#FA1F37"/>
<rect x="720.78" y="2079.86" width="48.42" height="22.08" fill="#37951F"/>
<rect x="720.78" y="2101.94" width="48.42" height="13.8" fill="#4BFF1E"/>
<rect x="720.78" y="2115.74" width="48.42" height="129.32" fill="#F32CAE"/>
<rect x="720.78" y="2245.06" width="48.42" height="67.82" fill="#EEE34D"/>
<rect x="720.78" y="2312.88" width="48.42" height="25.23" fill="#760C14"/>
<rect x="720.78" y="2338.11" width="48.42" height="22.67" fill="#66FFCC"/>
<rect x="720.78" y="2360.78" width="48.42" height="23.66" fill="#B31BFF"/>
<rect x="720.78" y="2384.44" width="48.42" height="42.78" fill="#F26B3C"/>
<rect x="720.78" y="2427.22" width="48.42" height="23.66" fill="#22468A"/>
<rect x="720.78" y="2450.88" width="48.42" height="37.06" fill="#52ADFF"/>
<rect x="720.78" y="2487.94" width="48.42" height="0.26" fill="#FF78FF"/>
<rect x="769.2" y="2075.9" width="48.42" height="2.97" fill="#FA1F37"/>
<rect x="769.2" y="2078.87" width="48.42" height="28.59" fill="#37951F"/>
<rect x="769.2" y="2107.46" width="48.42" height="18.73" fill="#4BFF1E"/>
<rect x="769.2" y="2126.19" width="48.42" height="123.61" fill="#F32CAE"/>
<rect x="769.2" y="2249.79" width="48.42" height="72.55" fill="#EEE34D"/>
<rect x="769.2" y="2322.34" width="48.42" height="16.76" fill="#760C14"/>
<rect x="769.2" y="2339.1" width="48.42" height="21.69" fill="#66FFCC"/>
<rect x="769.2" y="2360.78" width="48.42" height="34.89" fill="#B31BFF"/>
<rect x="769.2" y="2395.68" width="48.42" height="31.15" fill="#F26B3C"/>
<rect x="769.2" y="2426.83" width="48.42" height="20.7" fill="#22468A"/>
<rect x="769.2" y="2447.53" width="48.42" height="40.41" fill="#52ADFF"/>
<rect x="769.2" y="2487.94" width="48.42" height="0.26" fill="#FF78FF"/>
<rect x="817.62" y="2075.9" width="48.42" height="6.32" fill="#FA1F37"/>
<rect x="817.62" y="2082.22" width="48.42" height="26.81" fill="#37951F"/>
<rect x="817.62" y="2109.03" width="48.42" height="21.69" fill="#4BFF1E"/>
<rect x="817.62" y="2130.72" width="48.42" height="119.07" fill="#F32CAE"/>
<rect x="817.62" y="2249.79" width="48.42" height="67.62" fill="#EEE34D"/>
<rect x="817.62" y="2317.41" width="48.42" height="16.36" fill="#760C14"/>
<rect x="817.62" y="2333.78" width="48.42" height="38.84" fill="#66FFCC"/>
<rect x="817.62" y="2372.61" width="48.42" height="25.04" fill="#B31BFF"/>
<rect x="817.62" y="2397.65" width="48.42" height="46.92" fill="#F26B3C"/>
<rect x="817.62" y="2444.57" width="48.42" height="17.35" fill="#22468A"/>
<rect x="817.62" y="2461.92" width="48.42" height="26.02" fill="#52ADFF"/>
<rect x="817.62" y="2487.94" width="48.42" height="0.26" fill="#FF78FF"/>
<rect x="866.04" y="2075.9" width="48.42" height="2.38" fill="#FA1F37"/>
<rect x="866.04" y="2078.28" width="48.42" height="20.31" fill="#37951F"/>
<rect x="866.04" y="2098.59" width="48.42" height="11.83" fill="#4BFF1E"/>
<rect x="866.04" y="2110.41" width="48.42" height="113.36" fill="#F32CAE"/>
<rect x="866.04" y="2223.77" width="48.42" height="64.07" fill="#EEE34D"/>
<rect x="866.04" y="2287.84" width="48.42" height="17.74" fill="#760C14"/>
<rect x="866.04" y="2305.58" width="48.42" height="26.22" fill="#66FFCC"/>
<rect x="866.04" y="2331.8" width="48.42" height="36.87" fill="#B31BFF"/>
<rect x="866.04" y="2368.67" width="48.42" height="53.23" fill="#F26B3C"/>
<rect x="866.04" y="2421.9" width="48.42" height="22.28" fill="#22468A"/>
<rect x="866.04" y="2444.17" width="48.42" height="43.77" fill="#52ADFF"/>
<rect x="866.04" y="2487.94" width="48.42" height="0.26" fill="#FF78FF"/>
<rect x="914.46" y="2075.9" width="48.42" height="11.45" fill="#FA1F37"/>
<rect x="914.46" y="2087.35" width="48.42" height="22.08" fill="#37951F"/>
<rect x="914.46" y="2109.43" width="48.42" height="23.26" fill="#4BFF1E"/>
<rect x="914.46" y="2132.69" width="48.42" height="119.66" fill="#F32CAE"/>
<rect x="914.46" y="2252.36" width="48.42" height="69.99" fill="#EEE34D"/>
<rect x="914.46" y="2322.34" width="48.42" height="18.73" fill="#760C14"/>
<rect x="914.46" y="2341.07" width="48.42" height="28.59" fill="#66FFCC"/>
<rect x="914.46" y="2369.66" width="48.42" height="24.64" fill="#B31BFF"/>
<rect x="914.46" y="2394.3" width="48.42" height="42.78" fill="#F26B3C"/>
<rect x="914.46" y="2437.08" width="48.42" height="21.69" fill="#22468A"/>
<rect x="914.46" y="2458.76" width="48.42" height="29.18" fill="#52ADFF"/>
<rect x="914.46" y="2487.94" width="48.42" height="0.26" fill="#FF78FF"/>
<rect x="962.88" y="2075.9" width="48.42" height="1.99" fill="#FA1F37"/>
<rect x="962.88" y="2077.89" width="48.42" height="17.35" fill="#37951F"/>
<rect x="962.88" y="2095.23" width="48.42" height="19.12" fill="#4BFF1E"/>
<rect x="962.88" y="2114.36" width="48.42" height="130.7" fill="#F32CAE"/>
<rect x="962.88" y="2245.06" width="48.42" height="74.91" fill="#EEE34D"/>
<rect x="962.88" y="2319.98" width="48.42" height="19.12" fill="#760C14"/>
<rect x="962.88" y="2339.1" width="48.42" height="29.57" fill="#66FFCC"/>
<rect x="962.88" y="2368.67" width="48.42" height="28.98" fill="#B31BFF"/>
<rect x="962.88" y="2397.65" width="48.42" height="40.02" fill="#F26B3C"/>
<rect x="962.88" y="2437.67" width="48.42" height="21.69" fill="#22468A"/>
<rect x="962.88" y="2459.35" width="48.42" height="28.59" fill="#52ADFF"/>
<rect x="962.88" y="2487.94" width="48.42" height="0.26" fill="#FF78FF"/>
<rect x="1011.3" y="2075.9" width="48.42" height="2.38" fill="#FA1F37"/>
<rect x="1011.3" y="2078.28" width="48.42" height="20.31" fill="#37951F"/>
<rect x="1011.3" y="2098.59" width="48.42" height="17.74" fill="#4BFF1E"/>
<rect x="1011.3" y="2116.33" width="48.42" height="155.15" fill="#F32CAE"/>
<rect x="1011.3" y="2271.48" width="48.42" height="50.86" fill="#EEE34D"/>
<rect x="1011.3" y="2322.34" width="48.42" height="27.21" fill="#760C14"/>
<rect x="1011.3" y="2349.55" width="48.42" height="31.54" fill="#66FFCC"/>
<rect x="1011.3" y="2381.09" width="48.42" height="32.33" fill="#B31BFF"/>
<rect x="1011.3" y="2413.42" width="48.42" height="32.13" fill="#F26B3C"/>
<rect x="1011.3" y="2445.55" width="48.42" height="15.77" fill="#22468A"/>
<rect x="1011.3" y="2461.33" width="48.42" height="26.61" fill="#52ADFF"/>
<rect x="1011.3" y="2487.94" width="48.42" height="0.26" fill="#FF78FF"/>
<line x1="280" y1="2507.7" x2="1064.5" y2="2507.7" stroke="#4F4F4F" stroke-width="4.2"/>
<line x1="309.21" y1="2507.7" x2="309.21" y2="2516.2" stroke="#4F4F4F" stroke-width="3.6"/>
<line x1="357.63" y1="2507.7" x2="357.63" y2="2516.2" stroke="#4F4F4F" stroke-width="3.6"/>
<line x1="406.05" y1="2507.7" x2="406.05" y2="2516.2" stroke="#4F4F4F" stroke-width="3.6"/>
<line x1="454.47" y1="2507.7" x2="454.47" y2="2516.2" stroke="#4F4F4F" stroke-width="3.6"/>
<line x1="502.89" y1="2507.7" x2="502.89" y2="2516.2" stroke="#4F4F4F" stroke-width="3.6"/>
<line x1="551.31" y1="2507.7" x2="551.31" y2="2516.2" stroke="#4F4F4F" stroke-width="3.6"/>
<line x1="599.73" y1="2507.7" x2="599.73" y2="2516.2" stroke="#4F4F4F" stroke-width="3.6"/>
<line x1="648.15" y1="2507.7" x2="648.15" y2="2516.2" stroke="#4F4F4F" stroke-width="3.6"/>
<line x1="696.57" y1="2507.7" x2="696.57" y2="2516.2" stroke="#4F4F4F" stroke-width="3.6"/>
<line x1="744.99" y1="2507.7" x2="744.99" y2="2516.2" stroke="#4F4F4F" stroke-width="3.6"/>
<line x1="793.41" y1="2507.7" x2="793.41" y2="2516.2" stroke="#4F4F4F" stroke-width="3.6"/>
<line x1="841.83" y1="2507.7" x2="841.83" y2="2516.2" stroke="#4F4F4F" stroke-width="3.6"/>
<line x1="890.25" y1="2507.7" x2="890.25" y2="2516.2" stroke="#4F4F4F" stroke-width="3.6"/>
<line x1="938.67" y1="2507.7" x2="938.67" y2="2516.2" stroke="#4F4F4F" stroke-width="3.6"/>
<line x1="987.09" y1="2507.7" x2="987.09" y2="2516.2" stroke="#4F4F4F" stroke-width="3.6"/>
<line x1="1035.51" y1="2507.7" x2="1035.51" y2="2516.2" stroke="#4F4F4F" stroke-width="3.6"/>
<rect x="1094.6" y="2075.9" width="48.42" height="2.97" fill="#FA1F37"/>
<rect x="1094.6" y="2078.87" width="48.42" height="22.28" fill="#37951F"/>
<rect x="1094.6" y="2101.15" width="48.42" height="18.14" fill="#4BFF1E"/>
<rect x="1094.6" y="2119.29" width="48.42" height="104.09" fill="#F32CAE"/>
<rect x="1094.6" y="2223.38" width="48.42" height="66.44" fill="#EEE34D"/>
<rect x="1094.6" y="2289.81" width="48.42" height="13.21" fill="#760C14"/>
<rect x="1094.6" y="2303.02" width="48.42" height="30.16" fill="#66FFCC"/>
<rect x="1094.6" y="2333.18" width="48.42" height="39.43" fill="#B31BFF"/>
<rect x="1094.6" y="2372.61" width="48.42" height="58.55" fill="#F26B3C"/>
<rect x="1094.6" y="2431.16" width="48.42" height="18.33" fill="#22468A"/>
<rect x="1094.6" y="2449.5" width="48.42" height="38.44" fill="#52ADFF"/>
<rect x="1094.6" y="2487.94" width="48.42" height="0.26" fill="#FF78FF"/>
<rect x="1143.02" y="2075.9" width="48.42" height="1.99" fill="#FA1F37"/>
<rect x="1143.02" y="2077.89" width="48.42" height="22.67" fill="#37951F"/>
<rect x="1143.02" y="2100.56" width="48.42" height="14.79" fill="#4BFF1E"/>
<rect x="1143.02" y="2115.34" width="48.42" height="106.06" fill="#F32CAE"/>
<rect x="1143.02" y="2221.4" width="48.42" height="54.02" fill="#EEE34D"/>
<rect x="1143.02" y="2275.42" width="48.42" height="22.28" fill="#760C14"/>
<rect x="1143.02" y="2297.7" width="48.42" height="32.92" fill="#66FFCC"/>
<rect x="1143.02" y="2330.62" width="48.42" height="29.57" fill="#B31BFF"/>
<rect x="1143.02" y="2360.19" width="48.42" height="56.38" fill="#F26B3C"/>
<rect x="1143.02" y="2416.57" width="48.42" height="20.5" fill="#22468A"/>
<rect x="1143.02" y="2437.08" width="48.42" height="50.86" fill="#52ADFF"/>
<rect x="1143.02" y="2487.94" width="48.42" height="0.26" fill="#FF78FF"/>
<rect x="1191.44" y="2075.9" width="48.42" height="0.8" fill="#FA1F37"/>
<rect x="1191.44" y="2076.7" width="48.42" height="21.88" fill="#37951F"/>
<rect x="1191.44" y="2098.59" width="48.42" height="13.8" fill="#4BFF1E"/>
<rect x="1191.44" y="2112.39" width="48.42" height="116.9" fill="#F32CAE"/>
<rect x="1191.44" y="2229.29" width="48.42" height="61.11" fill="#EEE34D"/>
<rect x="1191.44" y="2290.4" width="48.42" height="20.11" fill="#760C14"/>
<rect x="1191.44" y="2310.51" width="48.42" height="34.5" fill="#66FFCC"/>
<rect x="1191.44" y="2345.01" width="48.42" height="29.57" fill="#B31BFF"/>
<rect x="1191.44" y="2374.58" width="48.42" height="54.61" fill="#F26B3C"/>
<rect x="1191.44" y="2429.19" width="48.42" height="18.93" fill="#22468A"/>
<rect x="1191.44" y="2448.12" width="48.42" height="39.82" fill="#52ADFF"/>
<rect x="1191.44" y="2487.94" width="48.42" height="0.26" fill="#FF78FF"/>
<rect x="1239.86" y="2075.9" width="48.42" height="3.96" fill="#FA1F37"/>
<rect x="1239.86" y="2079.86" width="48.42" height="20.7" fill="#37951F"/>
<rect x="1239.86" y="2100.56" width="48.42" height="17.74" fill="#4BFF1E"/>
<rect x="1239.86" y="2118.3" width="48.42" height="110.99" fill="#F32CAE"/>
<rect x="1239.86" y="2229.29" width="48.42" height="55.59" fill="#EEE34D"/>
<rect x="1239.86" y="2284.88" width="48.42" height="24.05" fill="#760C14"/>
<rect x="1239.86" y="2308.94" width="48.42" height="35.09" fill="#66FFCC"/>
<rect x="1239.86" y="2344.03" width="48.42" height="27.6" fill="#B31BFF"/>
<rect x="1239.86" y="2371.63" width="48.42" height="57.17" fill="#F26B3C"/>
<rect x="1239.86" y="2428.8" width="48.42" height="17.74" fill="#22468A"/>
<rect x="1239.86" y="2446.54" width="48.42" height="41.4" fill="#52ADFF"/>
<rect x="1239.86" y="2487.94" width="48.42" height="0.26" fill="#FF78FF"/>
<rect x="1288.28" y="2075.9" width="48.42" height="0.8" fill="#FA1F37"/>
<rect x="1288.28" y="2076.7" width="48.42" height="21.29" fill="#37951F"/>
<rect x="1288.28" y="2097.99" width="48.42" height="14.98" fill="#4BFF1E"/>
<rect x="1288.28" y="2112.98" width="48.42" height="116.31" fill="#F32CAE"/>
<rect x="1288.28" y="2229.29" width="48.42" height="55.99" fill="#EEE34D"/>
<rect x="1288.28" y="2285.28" width="48.42" height="22.28" fill="#760C14"/>
<rect x="1288.28" y="2307.56" width="48.42" height="38.44" fill="#66FFCC"/>
<rect x="1288.28" y="2346" width="48.42" height="28.59" fill="#B31BFF"/>
<rect x="1288.28" y="2374.58" width="48.42" height="50.27" fill="#F26B3C"/>
<rect x="1288.28" y="2424.85" width="48.42" height="18.73" fill="#22468A"/>
<rect x="1288.28" y="2443.58" width="48.42" height="44.36" fill="#52ADFF"/>
<rect x="1288.28" y="2487.94" width="48.42" height="0.26" fill="#FF78FF"/>
<rect x="1336.7" y="2075.9" width="48.42" height="2.97" fill="#FA1F37"/>
<rect x="1336.7" y="2078.87" width="48.42" height="21.69" fill="#37951F"/>
<rect x="1336.7" y="2100.56" width="48.42" height="14.39" fill="#4BFF1E"/>
<rect x="1336.7" y="2114.95" width="48.42" height="111.78" fill="#F32CAE"/>
<rect x="1336.7" y="2226.73" width="48.42" height="64.07" fill="#EEE34D"/>
<rect x="1336.7" y="2290.8" width="48.42" height="19.32" fill="#760C14"/>
<rect x="1336.7" y="2310.12" width="48.42" height="36.87" fill="#66FFCC"/>
<rect x="1336.7" y="2346.98" width="48.42" height="34.11" fill="#B31BFF"/>
<rect x="1336.7" y="2381.09" width="48.42" height="40.81" fill="#F26B3C"/>
<rect x="1336.7" y="2421.9" width="48.42" height="21.69" fill="#22468A"/>
<rect x="1336.7" y="2443.58" width="48.42" height="44.36" fill="#52ADFF"/>
<rect x="1336.7" y="2487.94" width="48.42" height="0.26" fill="#FF78FF"/>
<rect x="1385.12" y="2075.9" width="48.42" height="0.8" fill="#FA1F37"/>
<rect x="1385.12" y="2076.7" width="48.42" height="23.85" fill="#37951F"/>
<rect x="1385.12" y="2100.56" width="48.42" height="15.18" fill="#4BFF1E"/>
<rect x="1385.12" y="2115.74" width="48.42" height="113.55" fill="#F32CAE"/>
<rect x="1385.12" y="2229.29" width="48.42" height="57.57" fill="#EEE34D"/>
<rect x="1385.12" y="2286.86" width="48.42" height="20.7" fill="#760C14"/>
<rect x="1385.12" y="2307.56" width="48.42" height="35.49" fill="#66FFCC"/>
<rect x="1385.12" y="2343.04" width="48.42" height="28.59" fill="#B31BFF"/>
<rect x="1385.12" y="2371.63" width="48.42" height="53.23" fill="#F26B3C"/>
<rect x="1385.12" y="2424.85" width="48.42" height="17.35" fill="#22468A"/>
<rect x="1385.12" y="2442.2" width="48.42" height="45.74" fill="#52ADFF"/>
<rect x="1385.12" y="2487.94" width="48.42" height="0.26" fill="#FF78FF"/>
<rect x="1433.54" y="2075.9" width="48.42" height="2.97" fill="#FA1F37"/>
<rect x="1433.54" y="2078.87" width="48.42" height="19.12" fill="#37951F"/>
<rect x="1433.54" y="2097.99" width="48.42" height="12.42" fill="#4BFF1E"/>
<rect x="1433.54" y="2110.41" width="48.42" height="111.38" fill="#F32CAE"/>
<rect x="1433.54" y="2221.8" width="48.42" height="60.72" fill="#EEE34D"/>
<rect x="1433.54" y="2282.52" width="48.42" height="21.69" fill="#760C14"/>
<rect x="1433.54" y="2304.2" width="48.42" height="37.46" fill="#66FFCC"/>
<rect x="1433.54" y="2341.66" width="48.42" height="30.95" fill="#B31BFF"/>
<rect x="1433.54" y="2372.61" width="48.42" height="45.34" fill="#F26B3C"/>
<rect x="1433.54" y="2417.95" width="48.42" height="23.66" fill="#22468A"/>
<rect x="1433.54" y="2441.61" width="48.42" height="46.33" fill="#52ADFF"/>
<rect x="1433.54" y="2487.94" width="48.42" height="0.26" fill="#FF78FF"/>
<rect x="1481.96" y="2075.9" width="48.42" height="0.8" fill="#FA1F37"/>
<rect x="1481.96" y="2076.7" width="48.42" height="21.88" fill="#37951F"/>
<rect x="1481.96" y="2098.59" width="48.42" height="17.15" fill="#4BFF1E"/>
<rect x="1481.96" y="2115.74" width="48.42" height="111.98" fill="#F32CAE"/>
<rect x="1481.96" y="2227.71" width="48.42" height="49.29" fill="#EEE34D"/>
<rect x="1481.96" y="2277" width="48.42" height="23.26" fill="#760C14"/>
<rect x="1481.96" y="2300.26" width="48.42" height="40.22" fill="#66FFCC"/>
<rect x="1481.96" y="2340.48" width="48.42" height="25.23" fill="#B31BFF"/>
<rect x="1481.96" y="2365.71" width="48.42" height="61.11" fill="#F26B3C"/>
<rect x="1481.96" y="2426.83" width="48.42" height="15.38" fill="#22468A"/>
<rect x="1481.96" y="2442.2" width="48.42" height="45.74" fill="#52ADFF"/>
<rect x="1481.96" y="2487.94" width="48.42" height="0.26" fill="#FF78FF"/>
<rect x="1530.38" y="2075.9" width="48.42" height="4.94" fill="#FA1F37"/>
<rect x="1530.38" y="2080.84" width="48.42" height="19.71" fill="#37951F"/>
<rect x="1530.38" y="2100.56" width="48.42" height="11.83" fill="#4BFF1E"/>
<rect x="1530.38" y="2112.39" width="48.42" height="115.33" fill="#F32CAE"/>
<rect x="1530.38" y="2227.71" width="48.42" height="62.69" fill="#EEE34D"/>
<rect x="1530.38" y="2290.4" width="48.42" height="17.15" fill="#760C14"/>
<rect x="1530.38" y="2307.56" width="48.42" height="38.84" fill="#66FFCC"/>
<rect x="1530.38" y="2346.39" width="48.42" height="37.06" fill="#B31BFF"/>
<rect x="1530.38" y="2383.45" width="48.42" height="41.79" fill="#F26B3C"/>
<rect x="1530.38" y="2425.25" width="48.42" height="25.63" fill="#22468A"/>
<rect x="1530.38" y="2450.88" width="48.42" height="37.06" fill="#52ADFF"/>
<rect x="1530.38" y="2487.94" width="48.42" height="0.26" fill="#FF78FF"/>
<rect x="1578.8" y="2075.9" width="48.42" height="3.96" fill="#FA1F37"/>
<rect x="1578.8" y="2079.86" width="48.42" height="19.71" fill="#37951F"/>
<rect x="1578.8" y="2099.57" width="48.42" height="18.14" fill="#4BFF1E"/>
<rect x="1578.8" y="2117.71" width="48.42" height="103.7" fill="#F32CAE"/>
<rect x="1578.8" y="2221.4" width="48.42" height="66.44" fill="#EEE34D"/>
<rect x="1578.8" y="2287.84" width="48.42" height="21.69" fill="#760C14"/>
<rect x="1578.8" y="2309.53" width="48.42" height="29.57" fill="#66FFCC"/>
<rect x="1578.8" y="2339.1" width="48.42" height="36.47" fill="#B31BFF"/>
<rect x="1578.8" y="2375.57" width="48.42" height="51.26" fill="#F26B3C"/>
<rect x="1578.8" y="2426.83" width="48.42" height="11.83" fill="#22468A"/>
<rect x="1578.8" y="2438.65" width="48.42" height="49.29" fill="#52ADFF"/>
<rect x="1578.8" y="2487.94" width="48.42" height="0.26" fill="#FF78FF"/>
<line x1="1090" y1="2507.7" x2="1632" y2="2507.7" stroke="#4F4F4F" stroke-width="4.2"/>
<line x1="1118.81" y1="2507.7" x2="1118.81" y2="2516.2" stroke="#4F4F4F" stroke-width="3.6"/>
<line x1="1167.23" y1="2507.7" x2="1167.23" y2="2516.2" stroke="#4F4F4F" stroke-width="3.6"/>
<line x1="1215.65" y1="2507.7" x2="1215.65" y2="2516.2" stroke="#4F4F4F" stroke-width="3.6"/>
<line x1="1264.07" y1="2507.7" x2="1264.07" y2="2516.2" stroke="#4F4F4F" stroke-width="3.6"/>
<line x1="1312.49" y1="2507.7" x2="1312.49" y2="2516.2" stroke="#4F4F4F" stroke-width="3.6"/>
<line x1="1360.91" y1="2507.7" x2="1360.91" y2="2516.2" stroke="#4F4F4F" stroke-width="3.6"/>
<line x1="1409.33" y1="2507.7" x2="1409.33" y2="2516.2" stroke="#4F4F4F" stroke-width="3.6"/>
<line x1="1457.75" y1="2507.7" x2="1457.75" y2="2516.2" stroke="#4F4F4F" stroke-width="3.6"/>
<line x1="1506.17" y1="2507.7" x2="1506.17" y2="2516.2" stroke="#4F4F4F" stroke-width="3.6"/>
<line x1="1554.59" y1="2507.7" x2="1554.59" y2="2516.2" stroke="#4F4F4F" stroke-width="3.6"/>
<line x1="1603.01" y1="2507.7" x2="1603.01" y2="2516.2" stroke="#4F4F4F" stroke-width="3.6"/>
<rect x="1662.5" y="2075.9" width="48.42" height="2.97" fill="#FA1F37"/>
<rect x="1662.5" y="2078.87" width="48.42" height="19.12" fill="#37951F"/>
<rect x="1662.5" y="2097.99" width="48.42" height="18.33" fill="#4BFF1E"/>
<rect x="1662.5" y="2116.33" width="48.42" height="112.37" fill="#F32CAE"/>
<rect x="1662.5" y="2228.7" width="48.42" height="44.36" fill="#EEE34D"/>
<rect x="1662.5" y="2273.06" width="48.42" height="21.69" fill="#760C14"/>
<rect x="1662.5" y="2294.74" width="48.42" height="27.6" fill="#66FFCC"/>
<rect x="1662.5" y="2322.34" width="48.42" height="43.37" fill="#B31BFF"/>
<rect x="1662.5" y="2365.71" width="48.42" height="58.16" fill="#F26B3C"/>
<rect x="1662.5" y="2423.87" width="48.42" height="13.8" fill="#22468A"/>
<rect x="1662.5" y="2437.67" width="48.42" height="50.27" fill="#52ADFF"/>
<rect x="1662.5" y="2487.94" width="48.42" height="0.26" fill="#FF78FF"/>
<rect x="1710.92" y="2075.9" width="48.42" height="1.99" fill="#FA1F37"/>
<rect x="1710.92" y="2077.89" width="48.42" height="20.7" fill="#37951F"/>
<rect x="1710.92" y="2098.59" width="48.42" height="17.74" fill="#4BFF1E"/>
<rect x="1710.92" y="2116.33" width="48.42" height="106.46" fill="#F32CAE"/>
<rect x="1710.92" y="2222.78" width="48.42" height="48.3" fill="#EEE34D"/>
<rect x="1710.92" y="2271.08" width="48.42" height="23.66" fill="#760C14"/>
<rect x="1710.92" y="2294.74" width="48.42" height="26.61" fill="#66FFCC"/>
<rect x="1710.92" y="2321.36" width="48.42" height="45.34" fill="#B31BFF"/>
<rect x="1710.92" y="2366.7" width="48.42" height="57.17" fill="#F26B3C"/>
<rect x="1710.92" y="2423.87" width="48.42" height="14.79" fill="#22468A"/>
<rect x="1710.92" y="2438.65" width="48.42" height="49.29" fill="#52ADFF"/>
<rect x="1710.92" y="2487.94" width="48.42" height="0.26" fill="#FF78FF"/>
<rect x="1759.34" y="2075.9" width="48.42" height="0.8" fill="#FA1F37"/>
<rect x="1759.34" y="2076.7" width="48.42" height="19.91" fill="#37951F"/>
<rect x="1759.34" y="2096.61" width="48.42" height="17.74" fill="#4BFF1E"/>
<rect x="1759.34" y="2114.36" width="48.42" height="107.05" fill="#F32CAE"/>
<rect x="1759.34" y="2221.4" width="48.42" height="46.72" fill="#EEE34D"/>
<rect x="1759.34" y="2268.13" width="48.42" height="24.25" fill="#760C14"/>
<rect x="1759.34" y="2292.38" width="48.42" height="26.42" fill="#66FFCC"/>
<rect x="1759.34" y="2318.79" width="48.42" height="44.95" fill="#B31BFF"/>
<rect x="1759.34" y="2363.74" width="48.42" height="54.81" fill="#F26B3C"/>
<rect x="1759.34" y="2418.55" width="48.42" height="14.19" fill="#22468A"/>
<rect x="1759.34" y="2432.74" width="48.42" height="55.2" fill="#52ADFF"/>
<rect x="1759.34" y="2487.94" width="48.42" height="0.26" fill="#FF78FF"/>
<rect x="1807.76" y="2075.9" width="48.42" height="2.97" fill="#FA1F37"/>
<rect x="1807.76" y="2078.87" width="48.42" height="19.71" fill="#37951F"/>
<rect x="1807.76" y="2098.59" width="48.42" height="17.15" fill="#4BFF1E"/>
<rect x="1807.76" y="2115.74" width="48.42" height="105.08" fill="#F32CAE"/>
<rect x="1807.76" y="2220.81" width="48.42" height="50.27" fill="#EEE34D"/>
<rect x="1807.76" y="2271.08" width="48.42" height="22.67" fill="#760C14"/>
<rect x="1807.76" y="2293.76" width="48.42" height="27.6" fill="#66FFCC"/>
<rect x="1807.76" y="2321.36" width="48.42" height="44.36" fill="#B31BFF"/>
<rect x="1807.76" y="2365.71" width="48.42" height="60.13" fill="#F26B3C"/>
<rect x="1807.76" y="2425.84" width="48.42" height="12.81" fill="#22468A"/>
<rect x="1807.76" y="2438.65" width="48.42" height="49.29" fill="#52ADFF"/>
<rect x="1807.76" y="2487.94" width="48.42" height="0.26" fill="#FF78FF"/>
<rect x="1856.18" y="2075.9" width="48.42" height="0.8" fill="#FA1F37"/>
<rect x="1856.18" y="2076.7" width="48.42" height="21.88" fill="#37951F"/>
<rect x="1856.18" y="2098.59" width="48.42" height="17.15" fill="#4BFF1E"/>
<rect x="1856.18" y="2115.74" width="48.42" height="113.55" fill="#F32CAE"/>
<rect x="1856.18" y="2229.29" width="48.42" height="45.74" fill="#EEE34D"/>
<rect x="1856.18" y="2275.03" width="48.42" height="20.7" fill="#760C14"/>
<rect x="1856.18" y="2295.73" width="48.42" height="23.66" fill="#66FFCC"/>
<rect x="1856.18" y="2319.38" width="48.42" height="47.31" fill="#B31BFF"/>
<rect x="1856.18" y="2366.7" width="48.42" height="61.11" fill="#F26B3C"/>
<rect x="1856.18" y="2427.81" width="48.42" height="14.79" fill="#22468A"/>
<rect x="1856.18" y="2442.6" width="48.42" height="45.34" fill="#52ADFF"/>
<rect x="1856.18" y="2487.94" width="48.42" height="0.26" fill="#FF78FF"/>
<rect x="1904.6" y="2075.9" width="48.42" height="2.97" fill="#FA1F37"/>
<rect x="1904.6" y="2078.87" width="48.42" height="19.12" fill="#37951F"/>
<rect x="1904.6" y="2097.99" width="48.42" height="16.95" fill="#4BFF1E"/>
<rect x="1904.6" y="2114.95" width="48.42" height="116.71" fill="#F32CAE"/>
<rect x="1904.6" y="2231.66" width="48.42" height="42.39" fill="#EEE34D"/>
<rect x="1904.6" y="2274.04" width="48.42" height="22.28" fill="#760C14"/>
<rect x="1904.6" y="2296.32" width="48.42" height="27.99" fill="#66FFCC"/>
<rect x="1904.6" y="2324.31" width="48.42" height="47.31" fill="#B31BFF"/>
<rect x="1904.6" y="2371.63" width="48.42" height="57.17" fill="#F26B3C"/>
<rect x="1904.6" y="2428.8" width="48.42" height="15.77" fill="#22468A"/>
<rect x="1904.6" y="2444.57" width="48.42" height="43.37" fill="#52ADFF"/>
<rect x="1904.6" y="2487.94" width="48.42" height="0.26" fill="#FF78FF"/>
<rect x="1953.02" y="2075.9" width="48.42" height="0.8" fill="#FA1F37"/>
<rect x="1953.02" y="2076.7" width="48.42" height="21.29" fill="#37951F"/>
<rect x="1953.02" y="2097.99" width="48.42" height="14.39" fill="#4BFF1E"/>
<rect x="1953.02" y="2112.39" width="48.42" height="108.43" fill="#F32CAE"/>
<rect x="1953.02" y="2220.81" width="48.42" height="54.21" fill="#EEE34D"/>
<rect x="1953.02" y="2275.03" width="48.42" height="18.73" fill="#760C14"/>
<rect x="1953.02" y="2293.76" width="48.42" height="33.51" fill="#66FFCC"/>
<rect x="1953.02" y="2327.27" width="48.42" height="33.51" fill="#B31BFF"/>
<rect x="1953.02" y="2360.78" width="48.42" height="53.23" fill="#F26B3C"/>
<rect x="1953.02" y="2414.01" width="48.42" height="18.73" fill="#22468A"/>
<rect x="1953.02" y="2432.74" width="48.42" height="55.2" fill="#52ADFF"/>
<rect x="1953.02" y="2487.94" width="48.42" height="0.26" fill="#FF78FF"/>
<line x1="1658" y1="2507.7" x2="2006.5" y2="2507.7" stroke="#4F4F4F" stroke-width="4.2"/>
<line x1="1686.71" y1="2507.7" x2="1686.71" y2="2516.2" stroke="#4F4F4F" stroke-width="3.6"/>
<line x1="1735.13" y1="2507.7" x2="1735.13" y2="2516.2" stroke="#4F4F4F" stroke-width="3.6"/>
<line x1="1783.55" y1="2507.7" x2="1783.55" y2="2516.2" stroke="#4F4F4F" stroke-width="3.6"/>
<line x1="1831.97" y1="2507.7" x2="1831.97" y2="2516.2" stroke="#4F4F4F" stroke-width="3.6"/>
<line x1="1880.39" y1="2507.7" x2="1880.39" y2="2516.2" stroke="#4F4F4F" stroke-width="3.6"/>
<line x1="1928.81" y1="2507.7" x2="1928.81" y2="2516.2" stroke="#4F4F4F" stroke-width="3.6"/>
<line x1="1977.23" y1="2507.7" x2="1977.23" y2="2516.2" stroke="#4F4F4F" stroke-width="3.6"/>
<line x1="201.6" y1="2075.9" x2="201.6" y2="2488.2" stroke="#fff" stroke-opacity="0.55" stroke-width="1.6"/>
<line x1="333.42" y1="2075.9" x2="333.42" y2="2488.2" stroke="#fff" stroke-opacity="0.55" stroke-width="1.6"/>
<line x1="381.84" y1="2075.9" x2="381.84" y2="2488.2" stroke="#fff" stroke-opacity="0.55" stroke-width="1.6"/>
<line x1="430.26" y1="2075.9" x2="430.26" y2="2488.2" stroke="#fff" stroke-opacity="0.55" stroke-width="1.6"/>
<line x1="478.68" y1="2075.9" x2="478.68" y2="2488.2" stroke="#fff" stroke-opacity="0.55" stroke-width="1.6"/>
<line x1="527.1" y1="2075.9" x2="527.1" y2="2488.2" stroke="#fff" stroke-opacity="0.55" stroke-width="1.6"/>
<line x1="575.52" y1="2075.9" x2="575.52" y2="2488.2" stroke="#fff" stroke-opacity="0.55" stroke-width="1.6"/>
<line x1="623.94" y1="2075.9" x2="623.94" y2="2488.2" stroke="#fff" stroke-opacity="0.55" stroke-width="1.6"/>
<line x1="672.36" y1="2075.9" x2="672.36" y2="2488.2" stroke="#fff" stroke-opacity="0.55" stroke-width="1.6"/>
<line x1="720.78" y1="2075.9" x2="720.78" y2="2488.2" stroke="#fff" stroke-opacity="0.55" stroke-width="1.6"/>
<line x1="769.2" y1="2075.9" x2="769.2" y2="2488.2" stroke="#fff" stroke-opacity="0.55" stroke-width="1.6"/>
<line x1="817.62" y1="2075.9" x2="817.62" y2="2488.2" stroke="#fff" stroke-opacity="0.55" stroke-width="1.6"/>
<line x1="866.04" y1="2075.9" x2="866.04" y2="2488.2" stroke="#fff" stroke-opacity="0.55" stroke-width="1.6"/>
<line x1="914.46" y1="2075.9" x2="914.46" y2="2488.2" stroke="#fff" stroke-opacity="0.55" stroke-width="1.6"/>
<line x1="962.88" y1="2075.9" x2="962.88" y2="2488.2" stroke="#fff" stroke-opacity="0.55" stroke-width="1.6"/>
<line x1="1011.3" y1="2075.9" x2="1011.3" y2="2488.2" stroke="#fff" stroke-opacity="0.55" stroke-width="1.6"/>
<line x1="1143.02" y1="2075.9" x2="1143.02" y2="2488.2" stroke="#fff" stroke-opacity="0.55" stroke-width="1.6"/>
<line x1="1191.44" y1="2075.9" x2="1191.44" y2="2488.2" stroke="#fff" stroke-opacity="0.55" stroke-width="1.6"/>
<line x1="1239.86" y1="2075.9" x2="1239.86" y2="2488.2" stroke="#fff" stroke-opacity="0.55" stroke-width="1.6"/>
<line x1="1288.28" y1="2075.9" x2="1288.28" y2="2488.2" stroke="#fff" stroke-opacity="0.55" stroke-width="1.6"/>
<line x1="1336.7" y1="2075.9" x2="1336.7" y2="2488.2" stroke="#fff" stroke-opacity="0.55" stroke-width="1.6"/>
<line x1="1385.12" y1="2075.9" x2="1385.12" y2="2488.2" stroke="#fff" stroke-opacity="0.55" stroke-width="1.6"/>
<line x1="1433.54" y1="2075.9" x2="1433.54" y2="2488.2" stroke="#fff" stroke-opacity="0.55" stroke-width="1.6"/>
<line x1="1481.96" y1="2075.9" x2="1481.96" y2="2488.2" stroke="#fff" stroke-opacity="0.55" stroke-width="1.6"/>
<line x1="1530.38" y1="2075.9" x2="1530.38" y2="2488.2" stroke="#fff" stroke-opacity="0.55" stroke-width="1.6"/>
<line x1="1578.8" y1="2075.9" x2="1578.8" y2="2488.2" stroke="#fff" stroke-opacity="0.55" stroke-width="1.6"/>
<line x1="1710.92" y1="2075.9" x2="1710.92" y2="2488.2" stroke="#fff" stroke-opacity="0.55" stroke-width="1.6"/>
<line x1="1759.34" y1="2075.9" x2="1759.34" y2="2488.2" stroke="#fff" stroke-opacity="0.55" stroke-width="1.6"/>
<line x1="1807.76" y1="2075.9" x2="1807.76" y2="2488.2" stroke="#fff" stroke-opacity="0.55" stroke-width="1.6"/>
<line x1="1856.18" y1="2075.9" x2="1856.18" y2="2488.2" stroke="#fff" stroke-opacity="0.55" stroke-width="1.6"/>
<line x1="1904.6" y1="2075.9" x2="1904.6" y2="2488.2" stroke="#fff" stroke-opacity="0.55" stroke-width="1.6"/>
<line x1="1953.02" y1="2075.9" x2="1953.02" y2="2488.2" stroke="#fff" stroke-opacity="0.55" stroke-width="1.6"/>
<line x1="149" y1="2057.9" x2="149" y2="2509.2" stroke="#000" stroke-width="3"/>
<line x1="139.5" y1="2078.2" x2="149" y2="2078.2" stroke="#333" stroke-width="2.6"/>
<text x="131.3" y="2094" class="yt">1.00</text>
<line x1="139.5" y1="2180.5" x2="149" y2="2180.5" stroke="#333" stroke-width="2.6"/>
<text x="131.3" y="2196.3" class="yt">0.75</text>
<line x1="139.5" y1="2282.8" x2="149" y2="2282.8" stroke="#333" stroke-width="2.6"/>
<text x="131.3" y="2298.6" class="yt">0.50</text>
<line x1="139.5" y1="2385.1" x2="149" y2="2385.1" stroke="#333" stroke-width="2.6"/>
<text x="131.3" y="2400.9" class="yt">0.25</text>
<line x1="139.5" y1="2487.4" x2="149" y2="2487.4" stroke="#333" stroke-width="2.6"/>
<text x="131.3" y="2503.2" class="yt">0.00</text>
<g clip-path="url(#stripclip)">
<text class="strip" x="205.8" y="1550.9" text-anchor="middle" style="font-size:42.5px">Primate</text>
<text class="strip" x="673.5" y="1550.9" text-anchor="middle" style="font-size:42.5px">Australia</text>
<text class="strip" x="1362" y="1550.9" text-anchor="middle" style="font-size:42.5px">Indonesia</text>
<text class="strip" x="1831.5" y="1550.9" text-anchor="middle" style="font-size:41.6px">Papua New Guinea</text>
</g>
<text class="tag" x="3" y="527.6" style="font-size:68px">A</text>
<text class="tag" x="4" y="1015.8" style="font-size:68px">B</text>
<text class="tag" x="4" y="1585.6" style="font-size:71.5px">C</text>
<text class="tag" x="5.5" y="2070.2" style="font-size:68px">D</text>
<text class="ltitle" x="1345.5" y="681.4">Ancestry</text>
<rect x="1345.6" y="717.6" width="42.3" height="46.52" fill="#FF1F30"/>
<text class="ltxt" x="1415.6" y="759.26">hpAfrica2</text>
<rect x="1345.6" y="765.72" width="42.3" height="46.52" fill="#35902A"/>
<text class="ltxt" x="1415.6" y="807.38">hpAfrica1</text>
<rect x="1345.6" y="813.84" width="42.3" height="46.52" fill="#4CFF1E"/>
<text class="ltxt" x="1415.6" y="855.5">hpNEAfrica</text>
<rect x="1345.6" y="861.96" width="42.3" height="46.52" fill="#FF2DA0"/>
<text class="ltxt" x="1415.6" y="903.62">hpEurope</text>
<rect x="1345.6" y="910.08" width="42.3" height="46.52" fill="#E9DC3A"/>
<text class="ltxt" x="1415.6" y="951.74">hpAsia2</text>
<rect x="1345.6" y="958.2" width="42.3" height="46.52" fill="#760D15"/>
<text class="ltxt" x="1415.6" y="999.86">hspUral</text>
<rect x="1345.6" y="1006.32" width="42.3" height="46.52" fill="#66FFC8"/>
<text class="ltxt" x="1415.6" y="1047.98">hpNorthAsia</text>
<rect x="1345.6" y="1054.44" width="42.3" height="46.52" fill="#BF1CFF"/>
<text class="ltxt" x="1415.6" y="1096.1">hspSiberia</text>
<rect x="1345.6" y="1102.56" width="42.3" height="46.52" fill="#F8522B"/>
<text class="ltxt" x="1415.6" y="1144.22">hspEAsia</text>
<rect x="1345.6" y="1150.68" width="42.3" height="46.52" fill="#1F3C86"/>
<text class="ltxt" x="1415.6" y="1192.34">hspIndigenousNAmerica</text>
<rect x="1345.6" y="1198.8" width="42.3" height="46.52" fill="#50A4FF"/>
<text class="ltxt" x="1415.6" y="1240.46">hspIndigenousSAmerica</text>
<rect x="1345.6" y="1246.92" width="42.3" height="46.52" fill="#FF58FF"/>
<text class="ltxt" x="1415.6" y="1288.58">hpSahul</text>
</svg>
</body></html>
